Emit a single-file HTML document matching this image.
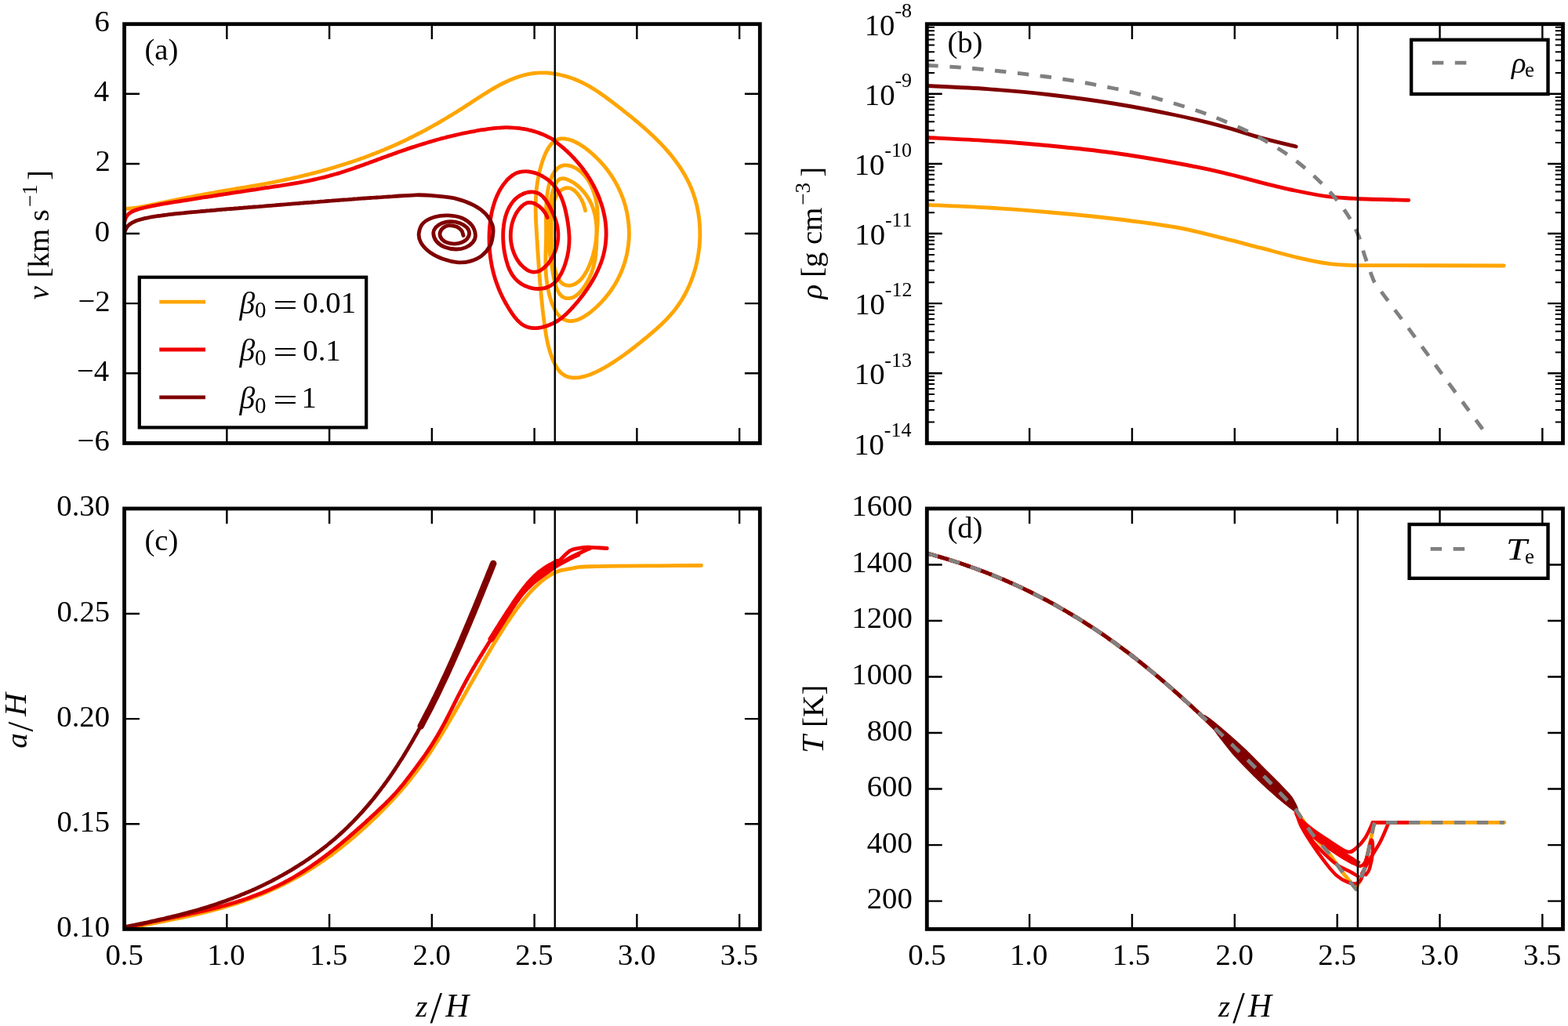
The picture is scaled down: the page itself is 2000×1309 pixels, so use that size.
<!DOCTYPE html><html><head><meta charset="utf-8"><style>html,body{margin:0;padding:0;background:#fff;overflow:hidden}svg{display:block}</style></head><body><svg width="2000" height="1309" viewBox="0 0 2000 1309" font-family="Liberation Serif, serif" style="font-kerning:none">
<rect width="2000" height="1309" fill="#fff"/>
<clipPath id="clipa"><rect x="158.6" y="30.7" width="810.6999999999999" height="534.6999999999999"/></clipPath>
<g clip-path="url(#clipa)"><path d="M158.6,267.3C158.7,267.2 158.9,267.0 159.1,266.9C159.3,266.8 159.4,266.8 159.6,266.7C159.8,266.6 159.9,266.6 160.1,266.5C160.3,266.5 160.3,266.5 160.6,266.4C160.8,266.4 161.3,266.3 161.6,266.3C161.9,266.2 162.3,266.2 162.6,266.2C162.9,266.2 163.3,266.1 163.6,266.1C163.9,266.1 164.1,266.1 164.6,266.0C165.1,266.0 165.9,265.9 166.6,265.9C167.3,265.8 167.9,265.8 168.6,265.7C169.3,265.6 169.8,265.6 170.6,265.4C171.4,265.3 172.6,265.2 173.6,265.0C174.6,264.9 175.6,264.7 176.6,264.6C177.6,264.4 178.6,264.2 179.6,264.0C180.6,263.9 181.6,263.7 182.6,263.5C183.6,263.3 184.6,263.1 185.6,262.9C186.6,262.7 187.6,262.5 188.6,262.3C189.6,262.1 190.6,261.9 191.6,261.7C192.6,261.5 193.6,261.3 194.6,261.1C195.6,260.9 196.6,260.7 197.6,260.5C198.6,260.3 199.6,260.1 200.6,259.9C201.6,259.7 202.6,259.4 203.6,259.2C204.6,259.0 205.6,258.8 206.6,258.6C207.6,258.4 208.6,258.2 209.6,258.0C210.6,257.8 211.6,257.6 212.6,257.4C213.6,257.2 214.6,257.0 215.6,256.8C216.6,256.6 217.6,256.3 218.6,256.1C219.6,255.9 220.6,255.7 221.6,255.5C222.6,255.3 223.6,255.1 224.6,254.9C225.6,254.7 226.6,254.5 227.6,254.3C228.6,254.1 229.6,253.9 230.6,253.7C231.6,253.5 232.6,253.3 233.6,253.1C234.6,252.9 235.6,252.7 236.6,252.5C237.6,252.3 238.6,252.1 239.6,251.9C240.6,251.7 241.6,251.5 242.6,251.4C243.6,251.2 244.6,251.0 245.6,250.8C246.6,250.6 247.6,250.4 248.6,250.2C249.6,250.0 250.6,249.8 251.6,249.6C252.6,249.4 253.6,249.3 254.6,249.1C255.6,248.9 256.6,248.7 257.6,248.5C258.6,248.3 259.6,248.1 260.6,247.9C261.6,247.8 262.6,247.6 263.6,247.4C264.6,247.2 265.6,247.0 266.6,246.8C267.6,246.7 268.6,246.5 269.6,246.3C270.6,246.1 271.6,245.9 272.6,245.8C273.6,245.6 274.6,245.4 275.6,245.2C276.6,245.0 277.6,244.9 278.6,244.7C279.6,244.5 280.6,244.3 281.6,244.2C282.6,244.0 283.6,243.8 284.6,243.6C285.6,243.5 286.6,243.3 287.6,243.1C288.6,242.9 289.6,242.8 290.6,242.6C291.6,242.4 292.6,242.2 293.6,242.1C294.6,241.9 295.6,241.7 296.6,241.6C297.6,241.4 298.6,241.2 299.6,241.1C300.6,240.9 301.8,240.6 302.9,240.4C303.9,240.3 304.8,240.2 305.8,240.0C306.7,239.9 307.7,239.7 308.7,239.5C309.7,239.4 310.6,239.2 311.6,239.1C312.6,238.9 313.6,238.8 314.5,238.6C315.5,238.5 316.5,238.3 317.5,238.1C318.4,238.0 319.4,237.8 320.4,237.6C321.4,237.5 322.4,237.3 323.3,237.1C324.3,237.0 325.3,236.8 326.3,236.6C327.2,236.5 328.2,236.3 329.2,236.1C330.2,236.0 331.2,235.8 332.1,235.6C333.1,235.4 334.1,235.3 335.1,235.1C336.1,234.9 337.0,234.7 338.0,234.5C339.0,234.4 340.0,234.2 341.0,234.0C341.9,233.8 342.9,233.6 343.9,233.4C344.9,233.2 345.9,233.0 346.8,232.9C347.8,232.7 348.8,232.5 349.8,232.3C350.8,232.1 351.7,231.9 352.7,231.7C353.7,231.5 354.7,231.3 355.7,231.1C356.6,230.9 357.6,230.7 358.6,230.5C359.6,230.3 360.6,230.1 361.5,229.9C362.5,229.7 363.5,229.5 364.5,229.2C365.4,229.0 366.4,228.8 367.4,228.6C368.4,228.4 369.4,228.2 370.3,228.0C371.3,227.7 372.3,227.5 373.3,227.3C374.3,227.1 375.2,226.9 376.2,226.6C377.2,226.4 378.2,226.2 379.2,226.0C380.1,225.7 381.1,225.5 382.1,225.3C383.1,225.0 384.0,224.8 385.0,224.6C386.0,224.3 387.0,224.1 387.9,223.9C388.9,223.6 389.9,223.4 390.9,223.2C391.9,222.9 392.8,222.7 393.8,222.4C394.8,222.2 395.8,221.9 396.7,221.7C397.7,221.4 398.7,221.2 399.6,220.9C400.6,220.7 401.6,220.4 402.6,220.2C403.5,219.9 404.5,219.7 405.5,219.4C406.5,219.1 407.4,218.9 408.4,218.6C409.4,218.4 410.3,218.1 411.3,217.8C412.3,217.6 413.2,217.3 414.2,217.0C415.2,216.7 416.1,216.5 417.1,216.2C418.1,215.9 419.0,215.6 420.0,215.4C421.0,215.1 421.9,214.8 422.9,214.5C423.9,214.2 424.8,214.0 425.8,213.7C426.8,213.4 427.7,213.1 428.7,212.8C429.6,212.5 430.6,212.2 431.6,211.9C432.5,211.6 433.5,211.3 434.5,211.0C435.4,210.7 436.4,210.4 437.3,210.1C438.3,209.8 439.2,209.5 440.2,209.2C441.2,208.9 442.1,208.6 443.1,208.3C444.0,208.0 445.0,207.7 445.9,207.4C446.9,207.1 447.8,206.7 448.8,206.4C449.7,206.1 450.7,205.8 451.6,205.5C452.6,205.1 453.5,204.8 454.5,204.5C455.4,204.2 456.4,203.8 457.3,203.5C458.3,203.2 459.2,202.8 460.1,202.5C461.1,202.2 462.0,201.8 463.0,201.5C463.9,201.1 464.9,200.8 465.8,200.5C466.7,200.1 467.7,199.8 468.6,199.4C469.5,199.1 470.5,198.7 471.4,198.4C472.4,198.0 473.3,197.7 474.2,197.3C475.2,196.9 476.1,196.6 477.0,196.2C477.9,195.9 478.9,195.5 479.8,195.1C480.7,194.8 481.7,194.4 482.6,194.0C483.5,193.7 484.4,193.3 485.4,192.9C486.3,192.5 487.2,192.2 488.1,191.8C489.1,191.4 490.0,191.0 490.9,190.6C491.8,190.2 492.7,189.9 493.6,189.5C494.6,189.1 495.5,188.7 496.4,188.3C497.3,187.9 498.2,187.5 499.1,187.1C500.0,186.7 500.9,186.3 501.8,185.9C502.8,185.5 503.7,185.1 504.6,184.7C505.5,184.3 506.4,183.9 507.3,183.5C508.2,183.1 509.1,182.6 510.0,182.2C510.9,181.8 511.8,181.4 512.7,181.0C513.6,180.5 514.5,180.1 515.4,179.7C516.3,179.3 517.2,178.8 518.1,178.4C519.0,178.0 519.8,177.6 520.7,177.1C521.6,176.7 522.5,176.2 523.4,175.8C524.3,175.4 525.2,174.9 526.1,174.5C527.0,174.0 527.8,173.6 528.7,173.1C529.6,172.7 530.5,172.2 531.4,171.8C532.3,171.3 533.2,170.9 534.0,170.4C534.9,170.0 535.8,169.5 536.7,169.1C537.6,168.6 538.4,168.1 539.3,167.7C540.2,167.2 541.1,166.7 541.9,166.3C542.8,165.8 543.7,165.3 544.6,164.8C545.4,164.4 546.3,163.9 547.2,163.4C548.1,162.9 548.9,162.4 549.8,162.0C550.7,161.5 551.5,161.0 552.4,160.5C553.3,160.0 554.2,159.5 555.0,159.0C555.9,158.6 556.8,158.1 557.6,157.6C558.5,157.1 559.4,156.6 560.2,156.1C561.1,155.6 562.0,155.1 562.8,154.6C563.7,154.1 564.6,153.6 565.4,153.0C566.3,152.5 567.1,152.0 568.0,151.5C568.9,151.0 569.7,150.5 570.6,150.0C571.5,149.4 572.3,148.9 573.2,148.4C574.0,147.9 574.9,147.4 575.8,146.8C576.6,146.3 577.5,145.8 578.3,145.3C579.2,144.7 580.1,144.2 580.9,143.7C581.8,143.1 582.6,142.6 583.5,142.1C584.4,141.5 585.2,141.0 586.1,140.4C586.9,139.9 587.8,139.4 588.6,138.8C589.5,138.3 590.4,137.7 591.2,137.2C592.1,136.6 592.9,136.1 593.8,135.5C594.6,135.0 595.5,134.4 596.3,133.8C597.2,133.3 598.1,132.7 598.9,132.2C599.8,131.6 600.6,131.1 601.5,130.5C602.3,129.9 603.2,129.4 604.0,128.8C604.9,128.3 605.8,127.7 606.6,127.1C607.5,126.6 608.3,126.0 609.2,125.5C610.0,124.9 610.9,124.3 611.8,123.8C612.6,123.2 613.5,122.7 614.3,122.1C615.2,121.6 616.1,121.0 616.9,120.5C617.8,119.9 618.7,119.4 619.5,118.9C620.4,118.3 621.2,117.8 622.1,117.3C623.0,116.7 623.8,116.2 624.7,115.7C625.6,115.1 626.4,114.6 627.3,114.1C628.2,113.6 629.1,113.1 629.9,112.6C630.8,112.1 631.7,111.6 632.5,111.1C633.4,110.6 634.3,110.1 635.2,109.6C636.1,109.1 636.9,108.7 637.8,108.2C638.7,107.7 639.6,107.3 640.5,106.8C641.4,106.4 642.2,105.9 643.1,105.5C644.0,105.1 644.9,104.6 645.8,104.2C646.7,103.8 647.6,103.4 648.5,103.0C649.4,102.6 650.3,102.2 651.2,101.8C652.1,101.4 653.0,101.0 653.9,100.7C654.8,100.3 655.7,100.0 656.6,99.6C657.5,99.3 658.4,98.9 659.4,98.6C660.3,98.3 661.2,98.0 662.1,97.7C663.0,97.4 664.0,97.1 664.9,96.8C665.8,96.6 666.7,96.3 667.7,96.0C668.6,95.8 669.5,95.6 670.5,95.3C671.4,95.1 672.4,94.9 673.3,94.7C674.3,94.5 675.2,94.3 676.1,94.2C677.1,94.0 678.1,93.8 679.0,93.7C680.0,93.6 680.9,93.4 681.9,93.3C682.9,93.2 683.8,93.1 684.8,93.1C685.8,93.0 686.7,92.9 687.7,92.9C688.7,92.8 689.7,92.8 690.7,92.8C691.7,92.8 692.6,92.8 693.6,92.8C694.6,92.8 695.6,92.9 696.6,92.9C697.6,93.0 698.6,93.0 699.6,93.1C700.6,93.2 701.6,93.3 702.6,93.4C703.6,93.5 704.6,93.7 705.6,93.8C706.6,94.0 707.6,94.1 708.6,94.3C709.6,94.5 710.6,94.6 711.6,94.8C712.6,95.0 713.6,95.3 714.6,95.5C715.6,95.7 716.6,95.9 717.6,96.2C718.6,96.5 719.6,96.7 720.6,97.0C721.6,97.3 722.6,97.6 723.5,97.9C724.5,98.2 725.5,98.5 726.5,98.8C727.4,99.1 728.4,99.4 729.4,99.8C730.3,100.1 731.3,100.5 732.2,100.9C733.2,101.2 734.1,101.6 735.1,102.0C736.0,102.4 737.0,102.8 737.9,103.2C738.8,103.6 739.7,104.0 740.6,104.4C741.5,104.9 742.5,105.3 743.3,105.7C744.2,106.2 745.1,106.6 746.0,107.1C746.9,107.5 747.8,108.0 748.7,108.5C749.5,109.0 750.4,109.4 751.3,109.9C752.1,110.4 753.0,110.9 753.8,111.4C754.7,111.9 755.5,112.5 756.4,113.0C757.2,113.5 758.1,114.0 758.9,114.6C759.7,115.1 760.6,115.6 761.4,116.2C762.2,116.7 763.1,117.3 763.9,117.8C764.7,118.4 765.5,118.9 766.3,119.5C767.2,120.1 768.0,120.6 768.8,121.2C769.6,121.8 770.4,122.4 771.2,122.9C772.0,123.5 772.8,124.1 773.6,124.7C774.4,125.3 775.2,125.9 776.0,126.5C776.8,127.1 777.6,127.7 778.4,128.3C779.2,128.9 780.0,129.5 780.8,130.1C781.6,130.7 782.4,131.3 783.2,131.9C784.0,132.5 784.8,133.1 785.6,133.8C786.4,134.4 787.2,135.0 788.0,135.6C788.8,136.2 789.6,136.8 790.4,137.5C791.2,138.1 792.0,138.7 792.8,139.3C793.5,139.9 794.3,140.6 795.1,141.2C795.9,141.8 796.7,142.4 797.5,143.1C798.3,143.7 799.1,144.3 799.9,145.0C800.7,145.6 801.5,146.2 802.3,146.9C803.1,147.5 803.9,148.2 804.7,148.8C805.5,149.4 806.2,150.1 807.0,150.7C807.8,151.4 808.6,152.0 809.4,152.7C810.2,153.3 811.0,154.0 811.7,154.6C812.5,155.3 813.3,155.9 814.1,156.6C814.9,157.2 815.6,157.9 816.4,158.6C817.2,159.2 817.9,159.9 818.7,160.5C819.5,161.2 820.2,161.9 821.0,162.5C821.8,163.2 822.5,163.9 823.3,164.6C824.1,165.2 824.8,165.9 825.6,166.6C826.3,167.3 827.1,168.0 827.8,168.6C828.6,169.3 829.3,170.0 830.0,170.7C830.8,171.4 831.5,172.1 832.3,172.8C833.0,173.5 833.7,174.2 834.4,174.9C835.2,175.6 835.9,176.3 836.6,177.0C837.3,177.7 838.0,178.4 838.7,179.1C839.5,179.8 840.2,180.5 840.9,181.3C841.6,182.0 842.3,182.7 843.0,183.4C843.6,184.2 844.3,184.9 845.0,185.6C845.7,186.3 846.4,187.1 847.1,187.8C847.7,188.5 848.4,189.3 849.1,190.0C849.7,190.8 850.4,191.5 851.0,192.3C851.7,193.0 852.3,193.8 853.0,194.5C853.6,195.3 854.3,196.0 854.9,196.8C855.5,197.6 856.2,198.3 856.8,199.1C857.4,199.9 858.0,200.6 858.6,201.4C859.2,202.2 859.8,203.0 860.4,203.7C861.0,204.5 861.6,205.3 862.2,206.1C862.8,206.9 863.3,207.7 863.9,208.5C864.5,209.3 865.0,210.1 865.6,210.9C866.2,211.7 866.7,212.5 867.2,213.3C867.8,214.1 868.3,214.9 868.9,215.8C869.4,216.6 869.9,217.4 870.4,218.2C870.9,219.1 871.4,219.9 871.9,220.7C872.4,221.6 872.9,222.4 873.4,223.3C873.9,224.1 874.4,225.0 874.8,225.8C875.3,226.7 875.7,227.5 876.2,228.4C876.6,229.2 877.1,230.1 877.5,231.0C878.0,231.8 878.4,232.7 878.8,233.6C879.2,234.5 879.6,235.4 880.0,236.2C880.4,237.1 880.8,238.0 881.2,238.9C881.6,239.8 881.9,240.7 882.3,241.6C882.7,242.5 883.0,243.4 883.4,244.3C883.7,245.3 884.0,246.2 884.4,247.1C884.7,248.0 885.0,248.9 885.3,249.9C885.6,250.8 885.9,251.7 886.2,252.7C886.5,253.6 886.8,254.6 887.0,255.5C887.3,256.5 887.6,257.4 887.8,258.4C888.1,259.3 888.3,260.3 888.5,261.2C888.8,262.2 889.0,263.2 889.2,264.1C889.4,265.1 889.6,266.1 889.8,267.0C890.0,268.0 890.2,269.0 890.4,270.0C890.5,271.0 890.7,271.9 890.9,272.9C891.0,273.9 891.2,274.9 891.3,275.9C891.4,276.9 891.6,277.9 891.7,278.9C891.8,279.8 891.9,280.8 892.0,281.8C892.1,282.8 892.2,283.8 892.3,284.8C892.4,285.8 892.4,286.8 892.5,287.8C892.6,288.8 892.6,289.8 892.7,290.8C892.7,291.9 892.7,292.9 892.8,293.9C892.8,294.9 892.8,295.9 892.8,296.9C892.8,297.9 892.8,298.9 892.8,299.9C892.8,300.9 892.8,301.9 892.8,303.0C892.7,304.0 892.7,305.0 892.6,306.0C892.6,307.0 892.5,308.0 892.5,309.0C892.4,310.0 892.3,311.0 892.2,312.1C892.2,313.1 892.1,314.1 892.0,315.1C891.9,316.1 891.8,317.1 891.6,318.1C891.5,319.1 891.4,320.1 891.2,321.1C891.1,322.1 891.0,323.1 890.8,324.1C890.6,325.1 890.5,326.1 890.3,327.2C890.1,328.2 889.9,329.2 889.7,330.1C889.5,331.1 889.3,332.1 889.1,333.1C888.9,334.1 888.7,335.1 888.5,336.1C888.2,337.1 888.0,338.1 887.7,339.1C887.5,340.1 887.2,341.0 887.0,342.0C886.7,343.0 886.4,344.0 886.1,345.0C885.9,345.9 885.6,346.9 885.3,347.9C884.9,348.9 884.6,349.8 884.3,350.8C884.0,351.7 883.7,352.7 883.3,353.7C883.0,354.6 882.6,355.6 882.3,356.5C881.9,357.5 881.5,358.4 881.2,359.4C880.8,360.3 880.4,361.2 880.0,362.2C879.6,363.1 879.2,364.0 878.8,365.0C878.4,365.9 878.0,366.8 877.5,367.7C877.1,368.6 876.7,369.6 876.2,370.5C875.8,371.4 875.3,372.3 874.8,373.2C874.4,374.1 873.9,375.0 873.4,375.9C872.9,376.7 872.4,377.6 871.9,378.5C871.4,379.4 870.9,380.3 870.4,381.1C869.9,382.0 869.4,382.9 868.8,383.7C868.3,384.6 867.7,385.4 867.2,386.3C866.6,387.1 866.1,387.9 865.5,388.8C864.9,389.6 864.3,390.4 863.7,391.2C863.1,392.1 862.5,392.9 861.9,393.7C861.3,394.5 860.7,395.3 860.1,396.1C859.4,396.9 858.8,397.7 858.2,398.4C857.5,399.2 856.9,400.0 856.2,400.7C855.5,401.5 854.9,402.3 854.2,403.0C853.5,403.8 852.8,404.5 852.1,405.3C851.4,406.0 850.8,406.7 850.0,407.5C849.3,408.2 848.6,408.9 847.9,409.6C847.2,410.3 846.5,411.1 845.8,411.8C845.0,412.5 844.3,413.2 843.6,413.9C842.9,414.6 842.1,415.2 841.4,415.9C840.6,416.6 839.9,417.3 839.2,418.0C838.4,418.6 837.7,419.3 836.9,420.0C836.2,420.6 835.4,421.3 834.7,421.9C833.9,422.6 833.1,423.3 832.4,423.9C831.6,424.6 830.9,425.2 830.1,425.8C829.4,426.5 828.6,427.1 827.8,427.7C827.1,428.4 826.3,429.0 825.6,429.6C824.8,430.2 824.1,430.9 823.3,431.5C822.6,432.1 821.8,432.7 821.1,433.3C820.3,433.9 819.6,434.5 818.8,435.2C818.1,435.8 817.3,436.4 816.6,437.0C815.9,437.6 815.1,438.2 814.4,438.7C813.6,439.3 812.9,439.9 812.1,440.5C811.4,441.1 810.7,441.7 809.9,442.3C809.2,442.9 808.4,443.5 807.7,444.0C806.9,444.6 806.2,445.2 805.4,445.8C804.7,446.4 803.9,446.9 803.2,447.5C802.4,448.1 801.6,448.7 800.9,449.2C800.1,449.8 799.3,450.4 798.5,450.9C797.8,451.5 797.0,452.1 796.2,452.7C795.4,453.2 794.6,453.8 793.8,454.4C793.0,454.9 792.2,455.5 791.4,456.1C790.5,456.6 789.7,457.2 788.9,457.8C788.1,458.3 787.2,458.9 786.4,459.5C785.5,460.0 784.6,460.6 783.8,461.2C782.9,461.7 782.0,462.3 781.1,462.9C780.2,463.4 779.3,464.0 778.4,464.6C777.5,465.1 776.6,465.7 775.7,466.3C774.7,466.8 773.8,467.4 772.9,467.9C771.9,468.5 771.0,469.0 770.0,469.6C769.0,470.1 768.1,470.6 767.1,471.2C766.1,471.7 765.2,472.2 764.2,472.7C763.2,473.2 762.2,473.7 761.2,474.2C760.3,474.6 759.3,475.1 758.3,475.5C757.3,476.0 756.3,476.4 755.3,476.8C754.3,477.2 753.4,477.6 752.4,478.0C751.4,478.3 750.4,478.7 749.4,479.0C748.4,479.3 747.5,479.6 746.5,479.9C745.5,480.2 744.5,480.5 743.6,480.7C742.6,480.9 741.6,481.1 740.7,481.3C739.7,481.5 738.8,481.6 737.8,481.7C736.9,481.8 736.0,481.9 735.0,481.9C734.1,482.0 733.2,482.0 732.3,482.0C731.4,482.0 730.5,481.9 729.6,481.8C728.7,481.7 727.9,481.6 727.0,481.4C726.1,481.2 725.3,481.0 724.5,480.8C723.7,480.5 722.9,480.2 722.1,479.9C721.3,479.5 720.5,479.2 719.8,478.7C719.0,478.3 718.3,477.8 717.6,477.3C716.9,476.8 716.2,476.2 715.5,475.6C714.9,475.0 714.2,474.3 713.6,473.6C713.0,472.9 712.4,472.1 711.8,471.4C711.2,470.6 710.7,469.7 710.1,468.9C709.6,468.1 709.1,467.2 708.6,466.3C708.1,465.4 707.6,464.4 707.2,463.5C706.7,462.6 706.3,461.6 705.8,460.6C705.4,459.7 705.0,458.7 704.6,457.7C704.2,456.7 703.9,455.7 703.5,454.7C703.1,453.8 702.8,452.8 702.5,451.8C702.1,450.8 701.8,449.8 701.5,448.8C701.2,447.8 700.9,446.9 700.6,445.9C700.3,444.9 700.1,443.9 699.8,442.9C699.6,441.9 699.3,441.0 699.1,440.0C698.8,439.0 698.6,438.0 698.4,437.0C698.2,436.0 698.0,435.1 697.8,434.1C697.6,433.1 697.4,432.1 697.2,431.1C697.0,430.2 696.8,429.2 696.7,428.2C696.5,427.2 696.3,426.2 696.2,425.2C696.0,424.3 695.9,423.3 695.7,422.3C695.6,421.3 695.4,420.3 695.3,419.3C695.1,418.4 695.0,417.4 694.9,416.4C694.7,415.4 694.6,414.4 694.4,413.4C694.3,412.5 694.2,411.5 694.1,410.5C693.9,409.5 693.8,408.5 693.7,407.5C693.5,406.5 693.4,405.5 693.3,404.5C693.2,403.5 693.1,402.6 692.9,401.6C692.8,400.6 692.7,399.6 692.6,398.6C692.5,397.6 692.4,396.6 692.2,395.6C692.1,394.6 692.0,393.6 691.9,392.6C691.8,391.6 691.7,390.6 691.6,389.6C691.5,388.6 691.4,387.6 691.3,386.6C691.2,385.6 691.1,384.6 691.0,383.6C690.8,382.6 690.7,381.6 690.7,380.6C690.6,379.6 690.5,378.6 690.4,377.6C690.3,376.6 690.2,375.6 690.1,374.6C690.0,373.6 689.9,372.6 689.8,371.6C689.7,370.6 689.6,369.6 689.5,368.6C689.4,367.6 689.3,366.6 689.3,365.6C689.2,364.6 689.1,363.6 689.0,362.6C688.9,361.6 688.8,360.6 688.7,359.6C688.7,358.6 688.6,357.6 688.5,356.6C688.4,355.6 688.3,354.6 688.3,353.6C688.2,352.6 688.1,351.6 688.0,350.6C687.9,349.6 687.9,348.6 687.8,347.6C687.7,346.6 687.6,345.6 687.6,344.6C687.5,343.6 687.4,342.6 687.4,341.6C687.3,340.6 687.2,339.6 687.1,338.6C687.1,337.6 687.0,336.6 686.9,335.6C686.9,334.6 686.8,333.6 686.7,332.6C686.7,331.6 686.6,330.6 686.5,329.6C686.5,328.6 686.4,327.6 686.3,326.6C686.3,325.6 686.2,324.6 686.1,323.7C686.1,322.7 686.0,321.7 685.9,320.7C685.9,319.7 685.8,318.7 685.7,317.7C685.7,316.7 685.6,315.7 685.5,314.7C685.5,313.7 685.4,312.7 685.4,311.7C685.3,310.7 685.2,309.7 685.2,308.8C685.1,307.8 685.1,306.8 685.0,305.8C684.9,304.8 684.9,303.8 684.8,302.8C684.8,301.8 684.7,300.9 684.6,299.9C684.6,298.9 684.5,297.9 684.5,296.9C684.4,295.9 684.3,294.9 684.3,294.0C684.2,293.0 684.2,292.0 684.1,291.0C684.0,290.0 684.0,289.1 683.9,288.1C683.9,287.1 683.8,286.1 683.8,285.1C683.7,284.2 683.7,283.2 683.6,282.2C683.6,281.2 683.6,280.2 683.5,279.3C683.5,278.3 683.4,277.3 683.4,276.3C683.4,275.3 683.4,274.3 683.3,273.4C683.3,272.4 683.3,271.4 683.3,270.4C683.2,269.4 683.2,268.5 683.2,267.5C683.2,266.5 683.2,265.5 683.2,264.5C683.2,263.5 683.2,262.5 683.2,261.6C683.2,260.6 683.3,259.6 683.3,258.6C683.3,257.6 683.3,256.6 683.4,255.6C683.4,254.6 683.4,253.6 683.5,252.6C683.5,251.6 683.6,250.6 683.7,249.6C683.7,248.6 683.8,247.6 683.9,246.6C684.0,245.6 684.0,244.6 684.1,243.6C684.2,242.6 684.3,241.6 684.4,240.6C684.5,239.6 684.7,238.6 684.8,237.6C684.9,236.6 685.1,235.6 685.2,234.5C685.3,233.5 685.5,232.5 685.7,231.5C685.8,230.5 686.0,229.4 686.2,228.4C686.4,227.4 686.6,226.3 686.8,225.3C687.0,224.3 687.2,223.2 687.4,222.2C687.7,221.2 687.9,220.1 688.1,219.1C688.4,218.0 688.7,217.0 688.9,215.9C689.2,214.9 689.5,213.8 689.8,212.8C690.1,211.7 690.4,210.6 690.7,209.6C691.0,208.5 691.4,207.4 691.7,206.4C692.1,205.3 692.4,204.3 692.8,203.2C693.2,202.2 693.6,201.1 694.0,200.1C694.4,199.1 694.8,198.1 695.2,197.1C695.6,196.1 696.1,195.1 696.6,194.1C697.0,193.2 697.5,192.2 698.0,191.3C698.5,190.4 699.0,189.6 699.5,188.7C700.0,187.9 700.6,187.1 701.1,186.3C701.7,185.5 702.2,184.8 702.8,184.1C703.4,183.4 704.0,182.8 704.6,182.2C705.2,181.6 705.9,181.0 706.5,180.5C707.2,180.0 707.9,179.6 708.6,179.2C709.2,178.8 709.9,178.5 710.7,178.2C711.4,177.9 712.1,177.6 712.9,177.4C713.6,177.3 714.4,177.1 715.2,177.0C715.9,176.9 716.7,176.9 717.5,176.8C718.3,176.8 719.1,176.9 719.9,176.9C720.8,177.0 721.6,177.1 722.4,177.3C723.3,177.4 724.1,177.6 725.0,177.8C725.8,178.0 726.7,178.3 727.5,178.6C728.4,178.9 729.3,179.2 730.2,179.5C731.0,179.9 731.9,180.3 732.8,180.7C733.7,181.1 734.6,181.5 735.4,182.0C736.3,182.4 737.2,182.9 738.1,183.4C739.0,183.9 739.9,184.5 740.7,185.0C741.6,185.6 742.5,186.2 743.4,186.8C744.3,187.4 745.2,188.0 746.0,188.6C746.9,189.2 747.8,189.9 748.6,190.6C749.5,191.2 750.3,191.9 751.2,192.6C752.0,193.3 752.9,194.0 753.7,194.7C754.6,195.4 755.4,196.1 756.2,196.9C757.0,197.6 757.8,198.3 758.6,199.1C759.4,199.8 760.2,200.6 761.0,201.3C761.7,202.1 762.5,202.9 763.2,203.6C764.0,204.4 764.7,205.2 765.5,205.9C766.2,206.7 766.9,207.5 767.6,208.3C768.3,209.1 769.0,209.9 769.7,210.7C770.4,211.5 771.1,212.3 771.7,213.1C772.4,213.9 773.1,214.8 773.7,215.6C774.4,216.4 775.0,217.2 775.6,218.1C776.2,218.9 776.8,219.8 777.4,220.6C778.0,221.4 778.6,222.3 779.2,223.1C779.8,224.0 780.4,224.9 780.9,225.7C781.5,226.6 782.0,227.5 782.6,228.3C783.1,229.2 783.6,230.1 784.1,231.0C784.6,231.8 785.1,232.7 785.6,233.6C786.1,234.5 786.6,235.4 787.1,236.3C787.6,237.2 788.0,238.1 788.5,239.0C788.9,239.9 789.4,240.8 789.8,241.7C790.2,242.6 790.6,243.5 791.0,244.4C791.4,245.4 791.8,246.3 792.2,247.2C792.6,248.1 793.0,249.1 793.3,250.0C793.7,250.9 794.1,251.8 794.4,252.8C794.7,253.7 795.1,254.6 795.4,255.6C795.7,256.5 796.0,257.5 796.3,258.4C796.6,259.3 796.9,260.3 797.2,261.2C797.4,262.2 797.7,263.1 798.0,264.1C798.2,265.0 798.5,266.0 798.7,267.0C798.9,267.9 799.1,268.9 799.4,269.8C799.6,270.8 799.8,271.7 799.9,272.7C800.1,273.7 800.3,274.6 800.5,275.6C800.6,276.6 800.8,277.5 800.9,278.5C801.1,279.5 801.2,280.4 801.3,281.4C801.5,282.4 801.6,283.3 801.7,284.3C801.8,285.3 801.9,286.2 801.9,287.2C802.0,288.2 802.1,289.1 802.1,290.1C802.2,291.1 802.3,292.1 802.3,293.0C802.3,294.0 802.3,295.0 802.4,295.9C802.4,296.9 802.4,297.9 802.4,298.9C802.4,299.8 802.3,300.8 802.3,301.8C802.3,302.7 802.2,303.7 802.2,304.7C802.1,305.6 802.1,306.6 802.0,307.6C801.9,308.6 801.8,309.5 801.7,310.5C801.6,311.4 801.5,312.4 801.4,313.4C801.3,314.3 801.1,315.3 801.0,316.3C800.9,317.2 800.7,318.2 800.5,319.1C800.4,320.1 800.2,321.1 800.0,322.0C799.8,323.0 799.6,323.9 799.4,324.9C799.2,325.8 799.0,326.8 798.8,327.7C798.5,328.7 798.3,329.6 798.0,330.6C797.8,331.5 797.5,332.4 797.2,333.4C797.0,334.3 796.7,335.2 796.4,336.2C796.1,337.1 795.8,338.0 795.4,339.0C795.1,339.9 794.8,340.8 794.5,341.7C794.1,342.7 793.8,343.6 793.4,344.5C793.0,345.4 792.7,346.3 792.3,347.2C791.9,348.1 791.5,349.1 791.1,350.0C790.7,350.9 790.2,351.8 789.8,352.7C789.4,353.5 788.9,354.4 788.5,355.3C788.0,356.2 787.6,357.1 787.1,358.0C786.6,358.9 786.1,359.7 785.6,360.6C785.1,361.5 784.6,362.3 784.1,363.2C783.6,364.1 783.0,364.9 782.5,365.8C782.0,366.6 781.4,367.5 780.8,368.3C780.3,369.2 779.7,370.0 779.1,370.8C778.5,371.7 777.9,372.5 777.3,373.3C776.7,374.1 776.1,375.0 775.4,375.8C774.8,376.6 774.2,377.4 773.5,378.2C772.8,379.0 772.2,379.8 771.5,380.6C770.8,381.4 770.1,382.2 769.4,382.9C768.7,383.7 768.0,384.5 767.3,385.3C766.6,386.0 765.8,386.8 765.1,387.5C764.3,388.3 763.6,389.0 762.8,389.8C762.0,390.5 761.3,391.3 760.5,392.0C759.7,392.7 758.9,393.4 758.1,394.2C757.2,394.9 756.4,395.6 755.6,396.3C754.8,397.0 753.9,397.6 753.1,398.3C752.2,399.0 751.4,399.6 750.5,400.2C749.7,400.8 748.8,401.4 747.9,402.0C747.1,402.6 746.2,403.2 745.3,403.7C744.5,404.2 743.6,404.7 742.7,405.2C741.8,405.7 741.0,406.1 740.1,406.5C739.2,406.9 738.4,407.3 737.5,407.6C736.6,408.0 735.8,408.3 734.9,408.5C734.0,408.8 733.2,409.0 732.3,409.2C731.5,409.3 730.6,409.5 729.8,409.5C729.0,409.6 728.1,409.7 727.3,409.6C726.5,409.6 725.7,409.6 724.9,409.4C724.1,409.3 723.3,409.1 722.6,408.9C721.8,408.7 721.0,408.4 720.3,408.0C719.5,407.7 718.8,407.3 718.1,406.9C717.4,406.5 716.7,406.0 716.0,405.5C715.3,404.9 714.6,404.4 714.0,403.7C713.4,403.1 712.7,402.5 712.1,401.7C711.5,401.0 710.9,400.3 710.4,399.5C709.8,398.7 709.3,397.9 708.7,397.0C708.2,396.1 707.7,395.2 707.2,394.3C706.8,393.4 706.3,392.4 705.9,391.4C705.4,390.4 705.0,389.4 704.6,388.4C704.2,387.4 703.8,386.3 703.4,385.3C703.0,384.2 702.7,383.1 702.4,382.0C702.0,381.0 701.7,379.9 701.4,378.8C701.1,377.7 700.8,376.6 700.5,375.5C700.3,374.4 700.0,373.3 699.8,372.2C699.5,371.1 699.3,370.0 699.1,368.9C698.8,367.8 698.6,366.8 698.5,365.7C698.3,364.7 698.1,363.6 697.9,362.6C697.8,361.5 697.6,360.5 697.5,359.5C697.3,358.5 697.2,357.4 697.1,356.4C697.0,355.4 696.8,354.4 696.7,353.4C696.6,352.4 696.6,351.4 696.5,350.5C696.4,349.5 696.3,348.5 696.3,347.5C696.2,346.6 696.1,345.6 696.1,344.6C696.1,343.7 696.0,342.7 696.0,341.7C695.9,340.8 695.9,339.8 695.9,338.9C695.9,337.9 695.9,337.0 695.9,336.1C695.9,335.1 695.9,334.2 695.9,333.2C695.9,332.3 695.9,331.4 695.9,330.4C695.9,329.5 695.9,328.5 695.9,327.6C695.9,326.7 695.9,325.7 696.0,324.8C696.0,323.8 696.0,322.9 696.0,322.0C696.1,321.0 696.1,320.1 696.1,319.1C696.2,318.2 696.2,317.2 696.2,316.3C696.2,315.3 696.3,314.4 696.3,313.4C696.3,312.5 696.4,311.5 696.4,310.5C696.4,309.6 696.4,308.6 696.5,307.6C696.5,306.7 696.5,305.7 696.5,304.7C696.6,303.7 696.6,302.7 696.6,301.7C696.6,300.7 696.6,299.7 696.6,298.7C696.6,297.7 696.6,296.7 696.6,295.6C696.6,294.6 696.6,293.6 696.6,292.5C696.6,291.5 696.6,290.5 696.6,289.4C696.6,288.4 696.6,287.3 696.5,286.3C696.5,285.2 696.5,284.2 696.5,283.1C696.5,282.0 696.5,281.0 696.5,279.9C696.5,278.9 696.5,277.8 696.5,276.7C696.5,275.7 696.5,274.6 696.5,273.5C696.5,272.5 696.5,271.4 696.5,270.3C696.6,269.3 696.6,268.2 696.6,267.1C696.6,266.1 696.7,265.0 696.7,263.9C696.8,262.9 696.8,261.8 696.9,260.7C696.9,259.7 697.0,258.6 697.0,257.6C697.1,256.5 697.2,255.5 697.3,254.4C697.4,253.4 697.5,252.4 697.6,251.3C697.7,250.3 697.8,249.3 698.0,248.3C698.1,247.2 698.2,246.2 698.4,245.2C698.5,244.2 698.7,243.2 698.9,242.2C699.1,241.2 699.3,240.2 699.5,239.3C699.7,238.3 699.9,237.3 700.2,236.3C700.4,235.4 700.7,234.4 700.9,233.5C701.2,232.6 701.5,231.6 701.8,230.7C702.1,229.8 702.4,228.9 702.8,228.0C703.1,227.1 703.5,226.2 703.9,225.4C704.2,224.5 704.6,223.7 705.1,222.9C705.5,222.1 705.9,221.3 706.4,220.5C706.8,219.8 707.3,219.1 707.8,218.4C708.3,217.7 708.9,217.0 709.4,216.4C710.0,215.8 710.5,215.2 711.1,214.7C711.7,214.2 712.3,213.7 713.0,213.3C713.6,212.9 714.3,212.5 715.0,212.1C715.7,211.8 716.4,211.6 717.2,211.3C717.9,211.1 718.7,211.0 719.5,210.9C720.3,210.8 721.1,210.8 722.0,210.8C722.8,210.8 723.7,210.9 724.5,211.0C725.4,211.2 726.3,211.4 727.2,211.6C728.0,211.8 728.9,212.1 729.8,212.5C730.7,212.8 731.6,213.2 732.5,213.6C733.4,214.0 734.3,214.5 735.1,215.0C736.0,215.5 736.9,216.1 737.7,216.7C738.6,217.3 739.4,217.9 740.2,218.5C741.0,219.2 741.8,219.9 742.6,220.6C743.3,221.4 744.0,222.1 744.8,222.9C745.5,223.7 746.2,224.5 746.8,225.4C747.5,226.2 748.2,227.1 748.8,228.0C749.4,228.9 750.0,229.8 750.6,230.7C751.2,231.7 751.7,232.6 752.3,233.6C752.8,234.6 753.3,235.6 753.8,236.6C754.3,237.6 754.7,238.6 755.2,239.6C755.6,240.7 756.1,241.7 756.5,242.8C756.9,243.8 757.2,244.9 757.6,246.0C758.0,247.0 758.3,248.1 758.6,249.2C758.9,250.2 759.2,251.3 759.5,252.4C759.8,253.5 760.0,254.5 760.2,255.6C760.5,256.7 760.7,257.7 760.9,258.8C761.0,259.9 761.2,260.9 761.4,262.0C761.5,263.0 761.6,264.1 761.7,265.1C761.8,266.1 761.9,267.2 762.0,268.2C762.1,269.2 762.1,270.2 762.2,271.2C762.2,272.3 762.3,273.3 762.3,274.3C762.3,275.3 762.3,276.3 762.3,277.3C762.3,278.3 762.3,279.2 762.3,280.2C762.3,281.2 762.2,282.2 762.2,283.2C762.2,284.2 762.1,285.1 762.1,286.1C762.0,287.1 762.0,288.0 761.9,289.0C761.9,290.0 761.8,290.9 761.7,291.9C761.7,292.9 761.6,293.8 761.6,294.8C761.5,295.7 761.5,296.7 761.4,297.6C761.3,298.6 761.3,299.5 761.2,300.5C761.2,301.4 761.2,302.4 761.1,303.3C761.1,304.3 761.0,305.2 761.0,306.2C761.0,307.1 760.9,308.0 760.9,309.0C760.8,309.9 760.8,310.9 760.8,311.8C760.7,312.7 760.7,313.7 760.6,314.6C760.6,315.6 760.5,316.5 760.5,317.4C760.4,318.4 760.3,319.3 760.2,320.3C760.2,321.2 760.1,322.2 760.0,323.1C759.9,324.0 759.8,325.0 759.7,325.9C759.6,326.9 759.5,327.8 759.3,328.8C759.2,329.7 759.0,330.7 758.9,331.7C758.7,332.6 758.5,333.6 758.3,334.5C758.2,335.5 757.9,336.5 757.7,337.4C757.5,338.4 757.3,339.4 757.0,340.3C756.7,341.3 756.4,342.3 756.1,343.3C755.8,344.2 755.5,345.2 755.2,346.2C754.8,347.2 754.5,348.2 754.1,349.2C753.7,350.2 753.3,351.2 752.8,352.2C752.4,353.2 751.9,354.2 751.4,355.2C750.9,356.2 750.4,357.3 749.9,358.3C749.3,359.3 748.8,360.3 748.2,361.3C747.6,362.3 747.0,363.3 746.3,364.2C745.7,365.2 745.1,366.2 744.4,367.1C743.7,368.0 743.0,368.9 742.3,369.8C741.6,370.6 740.9,371.5 740.2,372.3C739.5,373.0 738.7,373.8 738.0,374.5C737.2,375.2 736.4,375.9 735.7,376.4C734.9,377.0 734.1,377.6 733.3,378.1C732.5,378.5 731.7,379.0 730.9,379.3C730.1,379.7 729.3,379.9 728.5,380.1C727.7,380.4 726.9,380.5 726.1,380.6C725.4,380.7 724.6,380.7 723.8,380.7C723.0,380.6 722.3,380.5 721.5,380.3C720.8,380.1 720.1,379.9 719.4,379.6C718.7,379.3 718.0,378.9 717.4,378.5C716.8,378.1 716.2,377.6 715.6,377.0C715.0,376.5 714.5,375.8 713.9,375.2C713.4,374.5 712.9,373.8 712.5,373.0C712.0,372.2 711.6,371.4 711.2,370.5C710.8,369.7 710.4,368.7 710.0,367.8C709.7,366.9 709.3,365.9 709.0,364.9C708.7,363.9 708.4,362.9 708.1,361.8C707.8,360.8 707.6,359.7 707.3,358.6C707.0,357.5 706.8,356.4 706.6,355.3C706.3,354.2 706.1,353.1 705.9,351.9C705.7,350.8 705.5,349.7 705.3,348.6C705.1,347.5 704.9,346.3 704.7,345.2C704.6,344.1 704.4,343.0 704.2,342.0C704.0,340.9 703.8,339.8 703.7,338.8C703.5,337.7 703.3,336.7 703.2,335.6C703.0,334.6 702.8,333.6 702.7,332.5C702.5,331.5 702.4,330.5 702.2,329.5C702.1,328.5 701.9,327.5 701.8,326.5C701.7,325.6 701.5,324.6 701.4,323.6C701.3,322.6 701.1,321.7 701.0,320.7C700.9,319.8 700.8,318.8 700.7,317.8C700.6,316.9 700.5,316.0 700.4,315.0C700.3,314.1 700.2,313.1 700.1,312.2C700.0,311.2 699.9,310.3 699.8,309.4C699.7,308.4 699.7,307.5 699.6,306.6C699.5,305.6 699.5,304.7 699.4,303.8C699.4,302.8 699.3,301.9 699.3,301.0C699.2,300.0 699.2,299.1 699.2,298.2C699.2,297.2 699.1,296.3 699.1,295.3C699.1,294.4 699.1,293.4 699.1,292.5C699.1,291.5 699.1,290.6 699.1,289.6C699.1,288.7 699.2,287.7 699.2,286.7C699.2,285.7 699.3,284.8 699.3,283.8C699.4,282.8 699.4,281.8 699.5,280.8C699.5,279.8 699.6,278.8 699.7,277.8C699.8,276.7 699.8,275.7 699.9,274.7C700.0,273.6 700.1,272.6 700.3,271.5C700.4,270.4 700.5,269.4 700.6,268.3C700.8,267.2 700.9,266.1 701.0,265.0C701.2,263.9 701.4,262.8 701.5,261.6C701.7,260.5 701.9,259.3 702.1,258.2C702.3,257.0 702.5,255.8 702.7,254.7C702.9,253.5 703.1,252.3 703.3,251.2C703.6,250.0 703.8,248.8 704.1,247.7C704.4,246.6 704.6,245.4 704.9,244.3C705.2,243.2 705.6,242.2 705.9,241.1C706.2,240.1 706.6,239.1 707.0,238.1C707.3,237.2 707.7,236.3 708.2,235.4C708.6,234.6 709.0,233.8 709.5,233.0C710.0,232.3 710.5,231.6 711.0,231.0C711.5,230.4 712.0,229.9 712.6,229.5C713.2,229.0 713.8,228.6 714.4,228.4C715.0,228.1 715.7,227.9 716.4,227.8C717.1,227.7 717.8,227.7 718.5,227.7C719.2,227.8 720.0,227.9 720.7,228.0C721.5,228.2 722.2,228.4 723.0,228.7C723.8,229.0 724.5,229.3 725.3,229.6C726.1,230.0 726.9,230.4 727.6,230.8C728.4,231.2 729.2,231.6 729.9,232.1C730.7,232.5 731.5,233.0 732.2,233.5C732.9,234.0 733.7,234.6 734.4,235.1C735.1,235.7 735.9,236.2 736.6,236.8C737.3,237.4 738.0,238.0 738.7,238.7C739.4,239.3 740.1,239.9 740.7,240.6C741.4,241.3 742.1,242.0 742.7,242.7C743.3,243.4 744.0,244.1 744.6,244.8C745.2,245.6 745.8,246.4 746.4,247.1C747.0,247.9 747.6,248.7 748.1,249.5C748.7,250.3 749.3,251.1 749.8,252.0C750.3,252.8 750.8,253.7 751.3,254.5C751.8,255.4 752.3,256.3 752.8,257.2C753.2,258.1 753.7,259.0 754.1,259.9C754.5,260.8 754.9,261.8 755.3,262.7C755.7,263.6 756.0,264.6 756.4,265.6C756.7,266.5 757.0,267.5 757.3,268.5C757.6,269.5 757.9,270.5 758.2,271.5C758.4,272.5 758.7,273.5 758.9,274.5C759.1,275.5 759.3,276.6 759.5,277.6C759.7,278.6 759.9,279.7 760.0,280.7C760.2,281.8 760.3,282.8 760.4,283.9C760.5,284.9 760.6,286.0 760.7,287.1C760.8,288.2 760.8,289.2 760.9,290.3C760.9,291.4 760.9,292.5 760.9,293.6C760.9,294.6 760.9,295.7 760.9,296.8C760.9,297.9 760.8,299.0 760.7,300.1C760.7,301.2 760.6,302.3 760.5,303.4C760.4,304.5 760.3,305.6 760.2,306.7C760.0,307.8 759.9,308.9 759.7,310.0C759.6,311.1 759.4,312.1 759.2,313.2C759.0,314.3 758.8,315.4 758.6,316.5C758.4,317.6 758.1,318.7 757.9,319.7C757.6,320.8 757.3,321.9 757.1,323.0C756.8,324.0 756.5,325.1 756.2,326.2C755.9,327.2 755.5,328.3 755.2,329.3C754.9,330.4 754.5,331.4 754.1,332.5C753.8,333.5 753.4,334.5 753.0,335.5C752.6,336.5 752.2,337.6 751.8,338.5C751.4,339.5 750.9,340.5 750.5,341.5C750.0,342.4 749.6,343.4 749.1,344.3C748.6,345.2 748.2,346.2 747.6,347.0C747.1,347.9 746.6,348.8 746.1,349.6C745.6,350.5 745.0,351.3 744.5,352.1C743.9,352.8 743.3,353.6 742.8,354.3C742.2,355.1 741.6,355.8 741.0,356.4C740.3,357.1 739.7,357.7 739.1,358.3C738.4,358.9 737.8,359.4 737.1,359.9C736.4,360.5 735.8,360.9 735.1,361.4C734.4,361.8 733.7,362.2 732.9,362.5C732.2,362.9 731.5,363.2 730.7,363.4C730.0,363.7 729.2,363.9 728.5,364.0C727.7,364.2 726.9,364.3 726.2,364.3C725.4,364.3 724.7,364.3 723.9,364.2C723.2,364.2 722.4,364.0 721.7,363.8C721.0,363.6 720.3,363.4 719.6,363.0C718.9,362.7 718.2,362.3 717.6,361.9C716.9,361.4 716.3,360.9 715.7,360.3C715.1,359.7 714.5,359.0 714.0,358.2C713.4,357.5 712.9,356.7 712.4,355.9C712.0,355.0 711.5,354.1 711.1,353.2C710.6,352.2 710.2,351.3 709.8,350.3C709.4,349.3 709.1,348.2 708.7,347.2C708.4,346.2 708.1,345.1 707.8,344.1C707.5,343.0 707.2,342.0 706.9,340.9C706.7,339.9 706.4,338.9 706.2,337.8C706.0,336.8 705.8,335.8 705.6,334.8C705.4,333.8 705.2,332.8 705.0,331.8C704.9,330.8 704.7,329.8 704.6,328.8C704.5,327.8 704.4,326.8 704.3,325.8C704.1,324.8 704.1,323.8 704.0,322.9C703.9,321.9 703.8,320.9 703.7,319.9C703.7,318.9 703.6,317.9 703.6,316.9C703.5,316.0 703.5,315.0 703.5,314.0C703.4,313.0 703.4,312.0 703.4,311.0C703.3,309.9 703.3,308.9 703.3,307.9C703.3,306.9 703.3,305.9 703.3,304.8C703.3,303.8 703.3,302.7 703.2,301.7C703.2,300.6 703.2,299.5 703.2,298.5C703.2,297.4 703.2,296.3 703.2,295.2C703.2,294.1 703.2,293.0 703.2,291.8C703.2,290.7 703.2,289.6 703.2,288.5C703.2,287.4 703.2,286.2 703.2,285.1C703.3,284.0 703.3,282.8 703.3,281.7C703.3,280.6 703.4,279.5 703.4,278.4C703.5,277.2 703.6,276.1 703.6,275.0C703.7,273.9 703.8,272.8 703.9,271.7C704.0,270.7 704.1,269.6 704.3,268.5C704.4,267.5 704.6,266.4 704.7,265.4C704.9,264.3 705.1,263.3 705.3,262.3C705.5,261.3 705.7,260.3 706.0,259.4C706.2,258.4 706.5,257.5 706.7,256.6C707.0,255.7 707.3,254.8 707.7,253.9C708.0,253.1 708.4,252.2 708.8,251.4C709.2,250.6 709.6,249.8 710.0,249.1C710.4,248.4 710.9,247.7 711.4,247.0C711.9,246.3 712.4,245.7 713.0,245.1C713.6,244.5 714.1,243.9 714.8,243.4C715.4,242.9 716.0,242.4 716.7,242.0C717.3,241.5 718.0,241.2 718.7,240.9C719.4,240.5 720.2,240.3 720.9,240.1C721.6,239.9 722.4,239.8 723.1,239.7C723.9,239.7 724.6,239.7 725.4,239.8C726.2,239.9 726.9,240.0 727.7,240.3C728.5,240.6 729.2,240.9 730.0,241.3C730.7,241.7 731.5,242.3 732.2,242.8C733.0,243.4 733.7,244.1 734.4,244.8C735.2,245.5 735.9,246.2 736.5,247.1C737.2,247.9 737.9,248.8 738.5,249.7C739.2,250.6 739.8,251.6 740.4,252.6C741.0,253.5 741.5,254.6 742.1,255.6C742.6,256.7 743.1,257.7 743.5,258.8C744.0,259.9 744.4,261.0 744.8,262.1C745.2,263.2 745.5,264.3 745.8,265.4C746.1,266.5 746.4,268.1 746.5,268.7" fill="none" stroke="#ffa500" stroke-width="4.84" stroke-linejoin="round" stroke-linecap="round"/><path d="M158.6,284.2C158.7,283.8 158.9,282.7 159.1,282.0C159.3,281.4 159.4,280.8 159.6,280.3C159.8,279.8 159.9,279.4 160.1,278.9C160.3,278.5 160.3,278.3 160.6,277.8C160.8,277.3 161.3,276.5 161.6,275.9C161.9,275.4 162.3,275.0 162.6,274.6C162.9,274.1 163.3,273.8 163.6,273.4C163.9,273.1 164.1,272.9 164.6,272.5C165.1,272.1 165.9,271.5 166.6,271.1C167.3,270.6 167.9,270.3 168.6,269.9C169.3,269.6 169.8,269.4 170.6,269.0C171.4,268.7 172.6,268.2 173.6,267.9C174.6,267.5 175.6,267.2 176.6,266.9C177.6,266.6 178.6,266.3 179.6,266.0C180.6,265.8 181.6,265.5 182.6,265.3C183.6,265.0 184.6,264.8 185.6,264.6C186.6,264.3 187.6,264.1 188.6,263.9C189.6,263.7 190.6,263.5 191.6,263.3C192.6,263.1 193.6,262.9 194.6,262.7C195.6,262.5 196.6,262.3 197.6,262.1C198.6,261.9 199.6,261.7 200.6,261.5C201.6,261.3 202.6,261.2 203.6,261.0C204.6,260.8 205.6,260.6 206.6,260.4C207.6,260.3 208.6,260.1 209.6,259.9C210.6,259.8 211.6,259.6 212.6,259.4C213.6,259.2 214.6,259.1 215.6,258.9C216.6,258.8 217.6,258.6 218.6,258.4C219.6,258.3 220.6,258.1 221.6,257.9C222.6,257.8 223.6,257.6 224.6,257.4C225.6,257.3 226.6,257.1 227.6,257.0C228.6,256.8 229.6,256.6 230.6,256.5C231.6,256.3 232.6,256.2 233.6,256.0C234.6,255.8 235.6,255.7 236.6,255.5C237.6,255.4 238.6,255.2 239.6,255.1C240.6,254.9 241.6,254.7 242.6,254.6C243.6,254.4 244.6,254.3 245.6,254.1C246.6,253.9 247.6,253.8 248.6,253.6C249.6,253.5 250.6,253.3 251.6,253.2C252.6,253.0 253.6,252.8 254.6,252.7C255.6,252.5 256.6,252.4 257.6,252.2C258.6,252.1 259.6,251.9 260.6,251.7C261.6,251.6 262.6,251.4 263.6,251.3C264.6,251.1 265.6,251.0 266.6,250.8C267.6,250.7 268.6,250.5 269.6,250.3C270.6,250.2 271.6,250.0 272.6,249.9C273.6,249.7 274.6,249.6 275.6,249.4C276.6,249.2 277.6,249.1 278.6,248.9C279.6,248.8 280.6,248.6 281.6,248.5C282.6,248.3 283.6,248.2 284.6,248.0C285.6,247.9 286.6,247.7 287.6,247.5C288.6,247.4 289.6,247.2 290.6,247.1C291.6,246.9 292.6,246.8 293.6,246.6C294.6,246.5 295.6,246.3 296.6,246.1C297.6,246.0 298.6,245.8 299.6,245.7C300.6,245.5 301.6,245.4 302.6,245.2C303.6,245.1 304.6,244.9 305.6,244.8C306.6,244.6 307.6,244.5 308.6,244.3C309.6,244.2 310.6,244.0 311.6,243.8C312.6,243.7 313.6,243.5 314.6,243.4C315.6,243.2 316.6,243.1 317.6,242.9C318.6,242.8 319.6,242.6 320.6,242.5C321.6,242.3 322.6,242.2 323.6,242.0C324.6,241.9 325.6,241.7 326.6,241.6C327.6,241.4 328.6,241.3 329.6,241.1C330.6,241.0 331.6,240.8 332.6,240.7C333.6,240.5 334.6,240.4 335.6,240.2C336.6,240.0 337.6,239.9 338.6,239.7C339.6,239.6 340.6,239.4 341.6,239.3C342.6,239.1 343.6,239.0 344.6,238.8C345.6,238.7 346.6,238.6 347.6,238.4C348.6,238.3 349.6,238.1 350.6,238.0C351.6,237.8 352.6,237.7 353.6,237.5C354.6,237.4 355.6,237.2 356.6,237.1C357.6,236.9 358.6,236.8 359.6,236.6C360.6,236.5 361.6,236.3 362.6,236.1C363.6,236.0 364.6,235.8 365.6,235.7C366.6,235.5 367.6,235.4 368.6,235.2C369.6,235.0 370.6,234.9 371.6,234.7C372.6,234.5 373.6,234.4 374.6,234.2C375.6,234.0 376.6,233.9 377.6,233.7C378.6,233.5 379.6,233.3 380.6,233.2C381.6,233.0 382.6,232.8 383.6,232.6C384.6,232.4 385.6,232.2 386.6,232.0C387.6,231.9 388.6,231.7 389.6,231.5C390.6,231.3 391.6,231.1 392.6,230.9C393.6,230.7 394.6,230.4 395.6,230.2C396.6,230.0 397.6,229.8 398.6,229.6C399.6,229.4 400.6,229.2 401.6,228.9C402.6,228.7 403.6,228.5 404.6,228.2C405.6,228.0 406.6,227.8 407.6,227.5C408.6,227.3 409.6,227.1 410.6,226.8C411.6,226.6 412.6,226.3 413.6,226.1C414.6,225.8 415.6,225.5 416.6,225.3C417.6,225.0 418.6,224.8 419.6,224.5C420.6,224.2 421.6,223.9 422.6,223.7C423.6,223.4 424.6,223.1 425.6,222.8C426.6,222.5 427.6,222.2 428.6,222.0C429.6,221.7 430.6,221.4 431.6,221.1C432.6,220.8 433.6,220.5 434.6,220.2C435.6,219.8 436.6,219.5 437.6,219.2C438.6,218.9 439.6,218.6 440.6,218.3C441.6,217.9 442.6,217.6 443.6,217.3C444.6,216.9 445.6,216.6 446.6,216.3C447.6,215.9 448.6,215.6 449.6,215.2C450.6,214.9 451.6,214.5 452.6,214.2C453.6,213.8 454.6,213.5 455.6,213.1C456.6,212.8 457.6,212.4 458.6,212.1C459.6,211.7 460.6,211.4 461.6,211.0C462.6,210.6 463.6,210.3 464.6,209.9C465.6,209.6 466.6,209.2 467.6,208.8C468.6,208.5 469.6,208.1 470.6,207.7C471.6,207.4 472.6,207.0 473.6,206.6C474.6,206.3 475.6,205.9 476.6,205.5C477.6,205.1 478.6,204.8 479.6,204.4C480.6,204.0 481.6,203.7 482.6,203.3C483.6,202.9 484.6,202.6 485.6,202.2C486.6,201.8 487.6,201.5 488.6,201.1C489.6,200.7 490.6,200.4 491.6,200.0C492.6,199.6 493.6,199.3 494.6,198.9C495.6,198.5 496.6,198.2 497.6,197.8C498.6,197.5 499.6,197.1 500.6,196.7C501.6,196.4 502.6,196.0 503.6,195.7C504.6,195.3 505.6,194.9 506.6,194.6C507.6,194.2 508.6,193.9 509.6,193.5C510.6,193.2 511.6,192.8 512.6,192.5C513.6,192.1 514.6,191.8 515.6,191.4C516.6,191.1 517.6,190.8 518.6,190.4C519.6,190.1 520.6,189.7 521.6,189.4C522.6,189.1 523.6,188.7 524.6,188.4C525.6,188.1 526.6,187.7 527.6,187.4C528.6,187.1 529.6,186.8 530.6,186.4C531.6,186.1 532.6,185.8 533.6,185.5C534.6,185.2 535.6,184.8 536.6,184.5C537.6,184.2 538.6,183.9 539.6,183.6C540.6,183.3 541.6,183.0 542.6,182.7C543.6,182.4 544.6,182.1 545.6,181.8C546.6,181.5 547.6,181.2 548.6,180.9C549.6,180.6 550.6,180.3 551.6,180.0C552.6,179.7 553.6,179.4 554.6,179.1C555.6,178.9 556.6,178.6 557.6,178.3C558.6,178.0 559.6,177.7 560.6,177.5C561.6,177.2 562.6,176.9 563.6,176.7C564.6,176.4 565.6,176.1 566.6,175.9C567.6,175.6 568.6,175.4 569.6,175.1C570.6,174.8 571.6,174.6 572.6,174.3C573.6,174.1 574.6,173.9 575.6,173.6C576.6,173.4 577.6,173.1 578.6,172.9C579.6,172.7 580.6,172.4 581.6,172.2C582.6,172.0 583.6,171.7 584.6,171.5C585.6,171.3 586.6,171.1 587.6,170.9C588.6,170.6 589.6,170.4 590.6,170.2C591.6,170.0 592.6,169.8 593.6,169.6C594.6,169.4 595.6,169.2 596.6,169.0C597.6,168.8 598.6,168.6 599.6,168.4C600.6,168.2 601.6,168.0 602.6,167.8C603.6,167.6 604.6,167.5 605.6,167.3C606.6,167.1 607.6,166.9 608.6,166.7C609.6,166.6 610.6,166.4 611.6,166.2C612.6,166.1 613.6,165.9 614.6,165.7C615.6,165.6 616.6,165.4 617.6,165.3C618.6,165.1 619.6,165.0 620.6,164.8C621.6,164.7 622.6,164.5 623.6,164.4C624.6,164.3 625.6,164.2 626.6,164.0C627.6,163.9 628.6,163.8 629.6,163.7C630.6,163.6 631.6,163.5 632.6,163.4C633.6,163.3 634.6,163.2 635.6,163.2C636.6,163.1 637.6,163.0 638.6,163.0C639.6,162.9 640.6,162.9 641.6,162.8C642.6,162.8 643.6,162.8 644.6,162.7C645.6,162.7 646.6,162.7 647.6,162.7C648.6,162.7 649.6,162.7 650.6,162.8C651.6,162.8 652.6,162.8 653.6,162.9C654.6,162.9 655.6,163.0 656.6,163.1C657.6,163.1 658.6,163.2 659.6,163.3C660.6,163.4 661.6,163.5 662.6,163.6C663.6,163.8 664.6,163.9 665.6,164.1C666.6,164.2 667.6,164.4 668.6,164.5C669.6,164.7 670.6,164.9 671.6,165.1C672.6,165.3 673.6,165.5 674.6,165.8C675.6,166.0 676.6,166.3 677.6,166.5C678.6,166.8 679.6,167.1 680.6,167.4C681.6,167.7 682.6,168.0 683.6,168.3C684.6,168.6 685.6,169.0 686.6,169.3C687.6,169.7 688.6,170.0 689.6,170.4C690.6,170.8 691.6,171.2 692.6,171.6C693.6,172.1 694.6,172.5 695.6,172.9C696.6,173.4 697.6,173.9 698.6,174.4C699.6,174.8 700.6,175.4 701.6,175.9C702.6,176.4 703.6,176.9 704.6,177.5C705.6,178.0 707.1,178.7 707.6,179.2C708.1,179.7 707.3,179.8 707.7,180.3C708.2,180.8 709.3,181.5 710.1,182.1C710.9,182.7 711.7,183.3 712.5,183.9C713.3,184.5 714.1,185.2 714.9,185.8C715.6,186.4 716.4,187.1 717.2,187.7C718.0,188.4 718.7,189.0 719.5,189.7C720.2,190.3 721.0,191.0 721.7,191.7C722.5,192.4 723.2,193.0 724.0,193.7C724.7,194.4 725.4,195.1 726.2,195.8C726.9,196.5 727.6,197.2 728.3,197.9C729.0,198.7 729.7,199.4 730.4,200.1C731.1,200.8 731.8,201.6 732.5,202.3C733.2,203.1 733.9,203.8 734.5,204.6C735.2,205.3 735.9,206.1 736.5,206.9C737.2,207.6 737.9,208.4 738.5,209.2C739.2,209.9 739.8,210.7 740.4,211.5C741.1,212.3 741.7,213.1 742.3,213.9C742.9,214.7 743.5,215.5 744.1,216.3C744.7,217.1 745.3,218.0 745.9,218.8C746.5,219.6 747.1,220.4 747.7,221.3C748.2,222.1 748.8,222.9 749.3,223.8C749.9,224.6 750.4,225.5 751.0,226.3C751.5,227.2 752.1,228.0 752.6,228.9C753.1,229.7 753.6,230.6 754.1,231.5C754.6,232.3 755.1,233.2 755.6,234.1C756.1,235.0 756.6,235.9 757.0,236.7C757.5,237.6 758.0,238.5 758.4,239.4C758.9,240.3 759.3,241.2 759.8,242.1C760.2,243.0 760.6,243.9 761.0,244.8C761.4,245.7 761.9,246.6 762.2,247.5C762.6,248.5 763.0,249.4 763.4,250.3C763.8,251.2 764.1,252.1 764.5,253.1C764.9,254.0 765.2,254.9 765.5,255.9C765.9,256.8 766.2,257.7 766.5,258.7C766.8,259.6 767.1,260.6 767.4,261.5C767.7,262.4 768.0,263.4 768.3,264.3C768.6,265.3 768.8,266.2 769.1,267.2C769.3,268.1 769.6,269.1 769.8,270.1C770.0,271.0 770.2,272.0 770.4,272.9C770.7,273.9 770.8,274.9 771.0,275.8C771.2,276.8 771.4,277.7 771.6,278.7C771.7,279.7 771.9,280.7 772.0,281.6C772.1,282.6 772.3,283.6 772.4,284.5C772.5,285.5 772.6,286.5 772.7,287.5C772.8,288.4 772.8,289.4 772.9,290.4C773.0,291.4 773.0,292.3 773.1,293.3C773.1,294.3 773.1,295.3 773.1,296.3C773.2,297.2 773.2,298.2 773.2,299.2C773.1,300.2 773.1,301.2 773.1,302.1C773.0,303.1 773.0,304.1 772.9,305.1C772.9,306.1 772.8,307.0 772.7,308.0C772.6,309.0 772.5,310.0 772.4,311.0C772.3,312.0 772.1,312.9 772.0,313.9C771.9,314.9 771.7,315.9 771.5,316.9C771.3,317.8 771.2,318.8 771.0,319.8C770.8,320.8 770.5,321.7 770.3,322.7C770.1,323.7 769.8,324.7 769.6,325.6C769.3,326.6 769.1,327.6 768.8,328.6C768.5,329.5 768.2,330.5 767.9,331.5C767.5,332.4 767.2,333.4 766.9,334.4C766.5,335.3 766.2,336.3 765.8,337.2C765.4,338.2 765.0,339.2 764.7,340.1C764.3,341.1 763.8,342.0 763.4,343.0C763.0,343.9 762.6,344.9 762.1,345.8C761.7,346.8 761.2,347.7 760.8,348.6C760.3,349.6 759.8,350.5 759.4,351.4C758.9,352.4 758.4,353.3 757.9,354.2C757.4,355.1 756.9,356.1 756.3,357.0C755.8,357.9 755.3,358.8 754.7,359.7C754.2,360.6 753.6,361.5 753.1,362.4C752.5,363.3 752.0,364.2 751.4,365.0C750.8,365.9 750.3,366.8 749.7,367.7C749.1,368.5 748.5,369.4 747.9,370.3C747.3,371.1 746.7,372.0 746.1,372.8C745.5,373.7 744.9,374.5 744.3,375.3C743.7,376.2 743.0,377.0 742.4,377.8C741.8,378.6 741.2,379.4 740.5,380.2C739.9,381.0 739.3,381.8 738.6,382.6C738.0,383.4 737.4,384.2 736.7,385.0C736.1,385.7 735.4,386.5 734.8,387.2C734.1,388.0 733.5,388.7 732.8,389.5C732.2,390.2 731.5,390.9 730.9,391.7C730.2,392.4 729.6,393.1 728.9,393.8C728.3,394.5 727.6,395.2 727.0,395.9C726.3,396.5 725.7,397.2 725.0,397.9C724.4,398.5 723.7,399.2 723.0,399.8C722.4,400.5 721.7,401.1 721.0,401.7C720.3,402.3 719.6,402.9 718.9,403.5C718.2,404.1 717.5,404.7 716.8,405.3C716.1,405.9 715.3,406.4 714.5,407.0C713.8,407.5 713.0,408.1 712.2,408.6C711.4,409.1 710.6,409.6 709.7,410.1C708.9,410.6 708.0,411.1 707.1,411.6C706.2,412.1 705.3,412.5 704.4,413.0C703.5,413.4 702.5,413.8 701.6,414.2C700.6,414.6 699.7,415.0 698.7,415.4C697.7,415.7 696.7,416.1 695.7,416.4C694.7,416.7 693.7,417.0 692.7,417.2C691.7,417.5 690.7,417.7 689.7,417.9C688.7,418.0 687.6,418.2 686.6,418.3C685.6,418.4 684.6,418.5 683.6,418.6C682.6,418.6 681.6,418.6 680.6,418.6C679.7,418.5 678.7,418.4 677.7,418.3C676.8,418.2 675.8,418.0 674.9,417.8C673.9,417.6 673.0,417.3 672.1,417.0C671.2,416.7 670.3,416.3 669.5,415.9C668.6,415.5 667.8,415.0 667.0,414.5C666.1,414.0 665.3,413.4 664.6,412.8C663.8,412.2 663.0,411.6 662.3,410.9C661.6,410.2 660.8,409.5 660.1,408.8C659.4,408.0 658.7,407.2 658.1,406.4C657.4,405.6 656.7,404.8 656.1,404.0C655.4,403.1 654.8,402.3 654.2,401.4C653.6,400.5 653.0,399.7 652.4,398.8C651.8,397.9 651.2,397.0 650.6,396.1C650.1,395.2 649.5,394.3 648.9,393.4C648.4,392.5 647.8,391.6 647.3,390.7C646.8,389.8 646.2,388.9 645.7,388.0C645.2,387.1 644.7,386.2 644.2,385.3C643.7,384.4 643.2,383.5 642.8,382.6C642.3,381.7 641.8,380.8 641.4,379.9C640.9,379.0 640.5,378.1 640.0,377.1C639.6,376.2 639.2,375.3 638.7,374.4C638.3,373.5 637.9,372.6 637.5,371.6C637.1,370.7 636.7,369.8 636.3,368.9C636.0,367.9 635.6,367.0 635.2,366.1C634.9,365.2 634.5,364.2 634.2,363.3C633.8,362.4 633.5,361.4 633.2,360.5C632.8,359.6 632.5,358.6 632.2,357.7C631.9,356.8 631.6,355.8 631.3,354.9C631.0,353.9 630.8,353.0 630.5,352.0C630.2,351.1 629.9,350.1 629.7,349.2C629.4,348.2 629.2,347.3 629.0,346.3C628.7,345.4 628.5,344.4 628.3,343.5C628.1,342.5 627.8,341.5 627.6,340.6C627.4,339.6 627.3,338.7 627.1,337.7C626.9,336.7 626.7,335.7 626.5,334.8C626.4,333.8 626.2,332.8 626.1,331.9C625.9,330.9 625.8,329.9 625.6,328.9C625.5,327.9 625.4,326.9 625.3,326.0C625.2,325.0 625.0,324.0 624.9,323.0C624.8,322.0 624.8,321.0 624.7,320.0C624.6,319.0 624.5,318.0 624.4,317.0C624.4,316.0 624.3,315.0 624.3,314.0C624.2,313.0 624.2,312.0 624.1,311.0C624.1,310.0 624.1,308.9 624.1,307.9C624.0,306.9 624.0,305.9 624.0,304.9C624.0,303.8 624.0,302.8 624.0,301.8C624.0,300.7 624.1,299.7 624.1,298.7C624.1,297.7 624.2,296.6 624.2,295.6C624.3,294.6 624.3,293.5 624.4,292.5C624.4,291.5 624.5,290.4 624.6,289.4C624.7,288.4 624.8,287.3 624.9,286.3C625.0,285.3 625.1,284.2 625.2,283.2C625.4,282.2 625.5,281.1 625.6,280.1C625.8,279.1 625.9,278.1 626.1,277.1C626.3,276.0 626.5,275.0 626.6,274.0C626.8,273.0 627.0,272.0 627.2,271.0C627.5,270.0 627.7,269.0 627.9,268.0C628.1,267.0 628.4,266.0 628.7,265.0C628.9,264.1 629.2,263.1 629.5,262.1C629.8,261.1 630.1,260.2 630.4,259.2C630.7,258.3 631.0,257.3 631.3,256.4C631.7,255.4 632.0,254.5 632.4,253.5C632.8,252.6 633.1,251.7 633.5,250.8C633.9,249.9 634.3,249.0 634.7,248.1C635.2,247.2 635.6,246.3 636.0,245.4C636.5,244.6 636.9,243.7 637.4,242.9C637.9,242.0 638.4,241.2 638.9,240.3C639.4,239.5 639.9,238.7 640.5,237.9C641.0,237.1 641.6,236.3 642.1,235.5C642.7,234.7 643.3,233.9 643.9,233.2C644.5,232.4 645.1,231.7 645.7,231.0C646.4,230.2 647.0,229.5 647.7,228.8C648.4,228.1 649.1,227.5 649.8,226.8C650.5,226.2 651.2,225.6 651.9,225.0C652.7,224.4 653.4,223.9 654.2,223.4C655.0,222.8 655.7,222.4 656.5,221.9C657.4,221.5 658.2,221.1 659.0,220.7C659.9,220.4 660.7,220.1 661.6,219.8C662.5,219.6 663.4,219.3 664.3,219.2C665.2,219.0 666.1,218.9 667.1,218.8C668.0,218.7 669.0,218.7 669.9,218.7C670.9,218.6 671.8,218.7 672.8,218.8C673.8,218.8 674.8,219.0 675.7,219.1C676.7,219.3 677.7,219.4 678.7,219.7C679.7,219.9 680.6,220.2 681.6,220.4C682.6,220.7 683.6,221.1 684.6,221.4C685.5,221.8 686.5,222.2 687.5,222.6C688.4,223.0 689.4,223.5 690.3,224.0C691.2,224.4 692.2,225.0 693.1,225.5C694.0,226.0 694.9,226.6 695.8,227.2C696.7,227.8 697.6,228.4 698.4,229.0C699.3,229.7 700.1,230.3 700.9,231.0C701.7,231.7 702.5,232.4 703.3,233.2C704.0,233.9 704.8,234.6 705.5,235.4C706.2,236.2 706.9,237.0 707.6,237.8C708.2,238.6 708.9,239.4 709.5,240.3C710.1,241.1 710.7,242.0 711.2,242.8C711.8,243.7 712.3,244.6 712.8,245.5C713.3,246.4 713.8,247.3 714.3,248.2C714.7,249.2 715.2,250.1 715.6,251.0C716.0,252.0 716.4,252.9 716.8,253.9C717.2,254.9 717.6,255.8 717.9,256.8C718.3,257.8 718.6,258.8 718.9,259.7C719.2,260.7 719.5,261.7 719.8,262.7C720.1,263.7 720.4,264.7 720.6,265.7C720.9,266.7 721.1,267.7 721.3,268.7C721.6,269.7 721.8,270.7 722.0,271.7C722.2,272.7 722.4,273.7 722.6,274.7C722.8,275.7 723.0,276.7 723.2,277.6C723.4,278.6 723.5,279.6 723.7,280.6C723.9,281.6 724.0,282.5 724.2,283.5C724.3,284.4 724.5,285.4 724.6,286.4C724.7,287.3 724.9,288.3 725.0,289.2C725.1,290.1 725.2,291.1 725.3,292.0C725.4,293.0 725.5,293.9 725.6,294.8C725.7,295.8 725.7,296.7 725.8,297.6C725.9,298.6 725.9,299.5 726.0,300.4C726.0,301.4 726.0,302.3 726.1,303.2C726.1,304.2 726.1,305.1 726.1,306.0C726.1,307.0 726.0,307.9 726.0,308.9C726.0,309.8 725.9,310.7 725.9,311.7C725.8,312.6 725.7,313.6 725.6,314.5C725.5,315.5 725.4,316.5 725.3,317.4C725.2,318.4 725.1,319.4 724.9,320.3C724.8,321.3 724.6,322.3 724.4,323.3C724.2,324.3 724.0,325.3 723.8,326.3C723.6,327.3 723.3,328.3 723.1,329.3C722.8,330.3 722.5,331.3 722.2,332.4C721.9,333.4 721.6,334.5 721.3,335.5C721.0,336.6 720.6,337.6 720.2,338.7C719.9,339.7 719.5,340.8 719.1,341.9C718.6,342.9 718.2,344.0 717.7,345.0C717.3,346.0 716.8,347.1 716.3,348.1C715.8,349.1 715.3,350.0 714.7,351.0C714.2,352.0 713.6,352.9 713.0,353.8C712.4,354.7 711.8,355.6 711.1,356.5C710.5,357.3 709.8,358.1 709.1,358.9C708.4,359.6 707.7,360.4 707.0,361.0C706.2,361.7 705.4,362.3 704.6,362.9C703.8,363.5 703.0,364.0 702.2,364.5C701.3,365.0 700.5,365.4 699.6,365.8C698.7,366.2 697.8,366.6 696.9,366.9C696.0,367.2 695.0,367.4 694.1,367.7C693.2,367.9 692.2,368.0 691.3,368.2C690.3,368.3 689.3,368.4 688.4,368.4C687.4,368.5 686.4,368.5 685.5,368.5C684.5,368.4 683.5,368.4 682.5,368.3C681.6,368.2 680.6,368.0 679.6,367.8C678.6,367.7 677.7,367.5 676.7,367.2C675.8,367.0 674.8,366.7 673.9,366.4C673.0,366.0 672.0,365.7 671.1,365.3C670.2,364.9 669.3,364.5 668.4,364.1C667.6,363.6 666.7,363.2 665.9,362.7C665.0,362.2 664.2,361.6 663.4,361.1C662.6,360.5 661.9,359.9 661.1,359.3C660.4,358.7 659.7,358.1 659.0,357.4C658.3,356.8 657.7,356.1 657.0,355.4C656.4,354.7 655.8,353.9 655.3,353.2C654.7,352.4 654.1,351.7 653.6,350.9C653.1,350.1 652.6,349.2 652.1,348.4C651.6,347.6 651.2,346.7 650.8,345.8C650.3,345.0 649.9,344.1 649.5,343.2C649.1,342.3 648.8,341.3 648.4,340.4C648.0,339.5 647.7,338.5 647.4,337.6C647.1,336.6 646.8,335.6 646.5,334.6C646.2,333.6 645.9,332.6 645.6,331.6C645.4,330.6 645.1,329.6 644.9,328.5C644.6,327.5 644.4,326.5 644.2,325.4C644.0,324.4 643.8,323.3 643.6,322.2C643.4,321.2 643.2,320.1 643.0,319.0C642.9,317.9 642.7,316.9 642.6,315.8C642.5,314.7 642.3,313.6 642.2,312.5C642.1,311.4 642.0,310.3 642.0,309.2C641.9,308.1 641.8,307.0 641.8,305.9C641.7,304.8 641.7,303.7 641.7,302.6C641.7,301.5 641.7,300.4 641.7,299.4C641.7,298.3 641.7,297.2 641.8,296.1C641.8,295.0 641.9,293.9 642.0,292.8C642.0,291.8 642.1,290.7 642.3,289.6C642.4,288.6 642.5,287.5 642.7,286.5C642.8,285.4 643.0,284.4 643.2,283.4C643.4,282.3 643.6,281.3 643.8,280.3C644.0,279.3 644.3,278.3 644.5,277.3C644.8,276.3 645.1,275.4 645.4,274.4C645.7,273.5 646.0,272.5 646.3,271.6C646.7,270.7 647.0,269.7 647.4,268.8C647.8,267.9 648.2,267.1 648.6,266.2C649.0,265.3 649.5,264.5 649.9,263.7C650.4,262.8 650.9,262.0 651.4,261.3C651.9,260.5 652.4,259.7 653.0,259.0C653.5,258.2 654.1,257.5 654.7,256.8C655.3,256.1 655.9,255.4 656.5,254.8C657.2,254.1 657.8,253.5 658.5,252.9C659.2,252.3 659.9,251.7 660.7,251.2C661.4,250.7 662.1,250.1 662.9,249.6C663.7,249.2 664.5,248.7 665.3,248.3C666.2,247.8 667.0,247.4 667.9,247.1C668.7,246.7 669.6,246.4 670.5,246.1C671.4,245.9 672.3,245.6 673.2,245.4C674.1,245.2 675.0,245.1 675.9,245.0C676.8,244.9 677.7,244.9 678.6,244.9C679.6,244.9 680.5,245.0 681.4,245.1C682.3,245.3 683.1,245.4 684.0,245.7C684.9,246.0 685.8,246.3 686.6,246.7C687.4,247.1 688.3,247.6 689.1,248.1C689.9,248.7 690.6,249.3 691.4,250.0C692.2,250.7 692.9,251.4 693.6,252.3C694.3,253.1 695.0,253.9 695.7,254.8C696.3,255.7 697.0,256.7 697.6,257.7C698.2,258.6 698.8,259.6 699.4,260.6C700.0,261.6 700.5,262.7 701.1,263.7C701.6,264.7 702.1,265.7 702.6,266.7C703.1,267.7 703.6,268.7 704.1,269.7C704.6,270.7 705.0,271.7 705.4,272.6C705.9,273.6 706.3,274.6 706.7,275.5C707.1,276.5 707.4,277.4 707.8,278.3C708.1,279.3 708.5,280.2 708.8,281.1C709.1,282.1 709.4,283.0 709.6,283.9C709.9,284.9 710.1,285.8 710.4,286.7C710.6,287.6 710.8,288.6 711.0,289.5C711.1,290.4 711.3,291.4 711.4,292.3C711.5,293.2 711.6,294.2 711.7,295.1C711.8,296.1 711.9,297.0 711.9,298.0C711.9,299.0 711.9,300.0 711.9,300.9C711.9,301.9 711.8,302.9 711.8,303.9C711.7,304.9 711.6,305.9 711.5,306.9C711.4,307.9 711.2,308.9 711.0,309.9C710.9,310.9 710.6,311.9 710.4,312.9C710.2,314.0 709.9,315.0 709.6,316.0C709.3,317.0 709.0,318.0 708.7,319.0C708.3,320.0 707.9,321.0 707.5,322.0C707.1,323.0 706.7,324.0 706.2,325.0C705.8,325.9 705.3,326.9 704.7,327.9C704.2,328.9 703.6,329.8 703.0,330.8C702.5,331.7 701.8,332.6 701.2,333.5C700.5,334.5 699.9,335.3 699.2,336.2C698.5,337.1 697.7,337.9 697.0,338.7C696.3,339.5 695.5,340.2 694.7,340.9C693.9,341.6 693.1,342.3 692.3,342.9C691.5,343.5 690.7,344.1 689.9,344.6C689.0,345.1 688.2,345.5 687.3,345.9C686.5,346.2 685.6,346.5 684.8,346.7C683.9,346.9 683.0,347.1 682.2,347.1C681.3,347.2 680.5,347.1 679.6,347.0C678.8,346.9 677.9,346.7 677.1,346.5C676.2,346.2 675.4,345.9 674.5,345.5C673.7,345.1 672.9,344.7 672.1,344.2C671.3,343.7 670.5,343.1 669.7,342.5C669.0,341.9 668.2,341.3 667.5,340.6C666.7,340.0 666.0,339.3 665.3,338.5C664.6,337.8 664.0,337.1 663.3,336.3C662.7,335.5 662.1,334.7 661.5,333.9C660.9,333.0 660.3,332.2 659.8,331.3C659.2,330.4 658.7,329.5 658.2,328.6C657.7,327.7 657.2,326.8 656.8,325.8C656.4,324.9 655.9,323.9 655.6,323.0C655.2,322.0 654.8,321.0 654.5,320.0C654.1,319.0 653.8,318.0 653.5,316.9C653.2,315.9 653.0,314.9 652.8,313.8C652.5,312.8 652.3,311.7 652.2,310.7C652.0,309.6 651.8,308.5 651.7,307.5C651.6,306.4 651.5,305.3 651.4,304.3C651.4,303.2 651.4,302.1 651.3,301.1C651.3,300.0 651.4,298.9 651.4,297.8C651.4,296.8 651.5,295.7 651.6,294.7C651.7,293.6 651.8,292.5 652.0,291.5C652.1,290.5 652.3,289.4 652.5,288.4C652.7,287.4 653.0,286.3 653.2,285.3C653.5,284.3 653.7,283.3 654.0,282.4C654.4,281.4 654.7,280.4 655.0,279.5C655.4,278.5 655.8,277.6 656.2,276.7C656.6,275.7 657.0,274.8 657.5,274.0C657.9,273.1 658.4,272.2 658.9,271.4C659.4,270.6 659.9,269.7 660.5,269.0C661.0,268.2 661.6,267.4 662.2,266.7C662.8,265.9 663.4,265.2 664.1,264.5C664.7,263.9 665.4,263.2 666.1,262.6C666.8,262.0 667.5,261.4 668.2,260.9C669.0,260.4 669.7,260.0 670.5,259.6C671.3,259.2 672.1,258.9 672.9,258.7C673.7,258.5 674.6,258.4 675.5,258.4C676.3,258.4 677.2,258.4 678.1,258.6C679.0,258.8 679.9,259.0 680.8,259.4C681.7,259.7 682.6,260.1 683.5,260.6C684.4,261.0 685.3,261.6 686.2,262.2C687.1,262.8 687.9,263.4 688.8,264.2C689.6,264.9 690.4,265.6 691.2,266.4C691.9,267.2 692.7,268.1 693.4,269.0C694.1,269.8 694.7,270.8 695.3,271.7C695.9,272.6 696.5,273.6 696.9,274.5C697.4,275.5 698.0,277.0 698.2,277.5" fill="none" stroke="#f00000" stroke-width="4.84" stroke-linejoin="round" stroke-linecap="round"/><path d="M158.6,297.7C158.7,297.4 158.9,296.4 159.1,295.9C159.3,295.3 159.4,294.8 159.6,294.4C159.8,293.9 159.9,293.5 160.1,293.1C160.3,292.8 160.3,292.6 160.6,292.1C160.8,291.6 161.3,290.9 161.6,290.4C161.9,289.8 162.3,289.4 162.6,289.0C162.9,288.6 163.3,288.2 163.6,287.8C163.9,287.5 164.1,287.3 164.6,286.9C165.1,286.5 165.9,285.8 166.6,285.3C167.3,284.9 167.9,284.5 168.6,284.1C169.3,283.7 169.8,283.5 170.6,283.1C171.4,282.7 172.6,282.2 173.6,281.8C174.6,281.4 175.6,281.1 176.6,280.8C177.6,280.5 178.6,280.2 179.6,279.9C180.6,279.6 181.6,279.4 182.6,279.1C183.6,278.9 184.6,278.7 185.6,278.4C186.6,278.2 187.6,278.0 188.6,277.8C189.6,277.6 190.6,277.4 191.6,277.2C192.6,277.1 193.6,276.9 194.6,276.7C195.6,276.5 196.6,276.4 197.6,276.2C198.6,276.0 199.6,275.9 200.6,275.7C201.6,275.6 202.6,275.4 203.6,275.3C204.6,275.2 205.6,275.0 206.6,274.9C207.6,274.7 208.6,274.6 209.6,274.5C210.6,274.3 211.6,274.2 212.6,274.1C213.6,274.0 214.6,273.8 215.6,273.7C216.6,273.6 217.6,273.5 218.6,273.4C219.6,273.3 220.6,273.1 221.6,273.0C222.6,272.9 223.6,272.8 224.6,272.7C225.6,272.6 226.6,272.5 227.6,272.4C228.6,272.3 229.6,272.2 230.6,272.1C231.6,272.0 232.6,271.9 233.6,271.8C234.6,271.7 235.6,271.6 236.6,271.5C237.6,271.4 238.6,271.3 239.6,271.2C240.6,271.1 241.6,271.0 242.6,270.9C243.6,270.8 244.6,270.7 245.6,270.6C246.6,270.5 247.6,270.4 248.6,270.3C249.6,270.3 250.6,270.2 251.6,270.1C252.6,270.0 253.6,269.9 254.6,269.8C255.6,269.7 256.6,269.6 257.6,269.5C258.6,269.5 259.6,269.4 260.6,269.3C261.6,269.2 262.6,269.1 263.6,269.0C264.6,268.9 265.6,268.9 266.6,268.8C267.6,268.7 268.6,268.6 269.6,268.5C270.6,268.4 271.6,268.3 272.6,268.3C273.6,268.2 274.6,268.1 275.6,268.0C276.6,267.9 277.6,267.8 278.6,267.7C279.6,267.7 280.6,267.6 281.6,267.5C282.6,267.4 283.6,267.3 284.6,267.2C285.6,267.2 286.6,267.1 287.6,267.0C288.6,266.9 289.6,266.8 290.6,266.7C291.6,266.7 292.6,266.6 293.6,266.5C294.6,266.4 295.6,266.3 296.6,266.3C297.6,266.2 298.6,266.1 299.6,266.0C300.6,265.9 301.6,265.8 302.6,265.8C303.6,265.7 304.6,265.6 305.6,265.5C306.6,265.4 307.6,265.3 308.6,265.3C309.6,265.2 310.6,265.1 311.6,265.0C312.6,264.9 313.6,264.9 314.6,264.8C315.6,264.7 316.6,264.6 317.6,264.5C318.6,264.4 319.6,264.4 320.6,264.3C321.6,264.2 322.6,264.1 323.6,264.0C324.6,264.0 325.6,263.9 326.6,263.8C327.6,263.7 328.6,263.6 329.6,263.6C330.6,263.5 331.6,263.4 332.6,263.3C333.6,263.2 334.6,263.1 335.6,263.1C336.6,263.0 337.6,262.9 338.6,262.8C339.6,262.7 340.6,262.7 341.6,262.6C342.6,262.5 343.6,262.4 344.6,262.3C345.6,262.3 346.6,262.2 347.6,262.1C348.6,262.0 349.6,261.9 350.6,261.9C351.6,261.8 352.6,261.7 353.6,261.6C354.6,261.5 355.6,261.5 356.6,261.4C357.6,261.3 358.6,261.2 359.6,261.1C360.6,261.1 361.6,261.0 362.6,260.9C363.6,260.8 364.6,260.7 365.6,260.7C366.6,260.6 367.6,260.5 368.6,260.4C369.6,260.3 370.6,260.3 371.6,260.2C372.6,260.1 373.6,260.0 374.6,259.9C375.6,259.9 376.6,259.8 377.6,259.7C378.6,259.6 379.6,259.5 380.6,259.5C381.6,259.4 382.6,259.3 383.6,259.2C384.6,259.1 385.6,259.1 386.6,259.0C387.6,258.9 388.6,258.8 389.6,258.7C390.6,258.7 391.6,258.6 392.6,258.5C393.6,258.4 394.6,258.3 395.6,258.3C396.6,258.2 397.6,258.1 398.6,258.0C399.6,258.0 400.6,257.9 401.6,257.8C402.6,257.7 403.6,257.6 404.6,257.6C405.6,257.5 406.6,257.4 407.6,257.3C408.6,257.2 409.6,257.2 410.6,257.1C411.6,257.0 412.6,256.9 413.6,256.9C414.6,256.8 415.6,256.7 416.6,256.6C417.6,256.5 418.6,256.5 419.6,256.4C420.6,256.3 421.6,256.2 422.6,256.2C423.6,256.1 424.6,256.0 425.6,255.9C426.6,255.8 427.6,255.8 428.6,255.7C429.6,255.6 430.6,255.5 431.6,255.5C432.6,255.4 433.6,255.3 434.6,255.2C435.6,255.2 436.6,255.1 437.6,255.0C438.6,254.9 439.6,254.9 440.6,254.8C441.6,254.7 442.6,254.6 443.6,254.6C444.6,254.5 445.6,254.4 446.6,254.3C447.6,254.3 448.6,254.2 449.6,254.1C450.6,254.0 451.6,254.0 452.6,253.9C453.6,253.8 454.6,253.7 455.6,253.7C456.6,253.6 457.6,253.5 458.6,253.4C459.6,253.4 460.6,253.3 461.6,253.2C462.6,253.2 463.6,253.1 464.6,253.0C465.6,252.9 466.6,252.9 467.6,252.8C468.6,252.7 469.6,252.7 470.6,252.6C471.6,252.5 472.6,252.5 473.6,252.4C474.6,252.3 475.6,252.2 476.6,252.2C477.6,252.1 478.6,252.0 479.6,252.0C480.6,251.9 481.6,251.8 482.6,251.8C483.6,251.7 484.6,251.6 485.6,251.6C486.6,251.5 487.6,251.4 488.6,251.4C489.6,251.3 490.6,251.2 491.6,251.2C492.6,251.1 493.6,251.0 494.6,251.0C495.6,250.9 496.6,250.8 497.6,250.8C498.6,250.7 499.6,250.6 500.6,250.6C501.6,250.5 498.7,250.7 503.6,250.4C508.5,250.1 522.3,249.0 530.0,248.8C537.7,248.6 541.5,248.7 549.7,249.4C558.0,250.1 570.4,250.7 579.5,252.8C588.6,254.9 597.7,258.5 604.3,261.8C610.9,265.1 615.2,268.4 619.2,272.7C623.2,277.0 626.6,283.1 628.2,287.6C629.8,292.1 629.2,295.2 628.7,299.5C628.2,303.8 627.6,308.9 625.2,313.4C622.8,317.9 618.6,323.0 614.3,326.3C610.0,329.6 604.4,331.9 599.4,333.3C594.4,334.7 590.3,335.3 584.5,334.8C578.7,334.3 570.7,332.5 564.6,330.3C558.5,328.1 552.3,324.9 547.7,321.4C543.1,317.9 539.0,313.4 536.8,309.4C534.6,305.4 533.8,301.6 534.3,297.5C534.8,293.4 536.4,288.1 539.8,284.6C543.2,281.1 549.2,278.3 554.7,276.7C560.2,275.1 566.7,274.6 572.5,274.9C578.3,275.2 584.6,276.2 589.4,278.3C594.3,280.4 599.0,283.9 601.9,287.5C604.7,291.1 606.2,296.5 606.4,300.1C606.6,303.7 605.1,306.5 603.1,309.1C601.0,311.6 597.6,314.1 594.1,315.6C590.5,317.1 586.2,318.1 581.7,318.0C577.2,317.9 571.4,317.0 567.2,315.3C563.1,313.6 559.1,310.8 556.7,307.9C554.3,305.0 553.0,300.7 552.8,297.8C552.6,294.9 553.9,292.4 555.7,290.2C557.6,288.1 560.6,286.0 563.8,284.7C567.0,283.5 571.0,282.7 574.8,282.7C578.6,282.7 583.3,283.5 586.7,284.7C590.1,286.0 593.4,288.1 595.4,290.2C597.4,292.4 598.5,295.4 598.6,297.8C598.7,300.2 597.6,302.5 596.0,304.4C594.4,306.4 591.8,308.2 589.0,309.3C586.2,310.4 582.5,311.1 579.4,311.1C576.3,311.1 572.9,310.5 570.2,309.5C567.5,308.5 565.0,306.9 563.5,305.2C561.9,303.4 561.1,301.2 561.0,299.2C560.9,297.2 561.7,295.1 562.7,293.4C563.8,291.7 565.6,290.1 567.5,289.2C569.4,288.2 571.5,287.6 574.0,287.6C576.5,287.6 580.0,288.3 582.5,289.3C585.0,290.4 587.3,292.2 588.7,294.1C590.1,295.9 590.6,299.4 591.0,300.5" fill="none" stroke="#800000" stroke-width="4.84" stroke-linejoin="round" stroke-linecap="round"/></g>
<line x1="707.78" y1="30.70" x2="707.78" y2="565.40" stroke="#000" stroke-width="2.4"/>
<path d="M158.60,565.40v-19.4M158.60,30.70v19.4M289.36,565.40v-19.4M289.36,30.70v19.4M420.12,565.40v-19.4M420.12,30.70v19.4M550.87,565.40v-19.4M550.87,30.70v19.4M681.63,565.40v-19.4M681.63,30.70v19.4M812.39,565.40v-19.4M812.39,30.70v19.4M943.15,565.40v-19.4M943.15,30.70v19.4M158.60,565.40h19.4M969.30,565.40h-19.4M158.60,476.28h19.4M969.30,476.28h-19.4M158.60,387.17h19.4M969.30,387.17h-19.4M158.60,298.05h19.4M969.30,298.05h-19.4M158.60,208.93h19.4M969.30,208.93h-19.4M158.60,119.82h19.4M969.30,119.82h-19.4M158.60,30.70h19.4M969.30,30.70h-19.4" stroke="#000" stroke-width="2.4" fill="none"/>
<rect x="158.60" y="30.70" width="810.70" height="534.70" fill="none" stroke="#000" stroke-width="4.84"/>
<text x="120.40" y="40.20" font-size="38.7">6</text>
<text x="119.85" y="129.32" font-size="38.7">4</text>
<text x="121.39" y="218.43" font-size="38.7">2</text>
<text x="120.72" y="307.55" font-size="38.7">0</text>
<text x="99.56" y="396.67" font-size="38.7">−2</text>
<text x="98.03" y="485.78" font-size="38.7">−4</text>
<text x="98.58" y="574.90" font-size="38.7">−6</text>
<clipPath id="clipb"><rect x="1182.3" y="30.7" width="811.2" height="534.6999999999999"/></clipPath>
<g clip-path="url(#clipb)"><path d="M1182.3,261.3C1195.2,261.9 1233.7,263.4 1260.0,265.0C1286.3,266.6 1313.3,268.7 1340.0,271.0C1366.7,273.3 1393.3,275.8 1420.0,279.0C1446.7,282.2 1476.7,285.9 1500.0,290.0C1523.3,294.1 1542.1,299.5 1560.0,303.9C1577.9,308.3 1591.7,312.1 1607.5,316.2C1623.3,320.3 1640.8,325.3 1655.0,328.6C1669.2,331.9 1681.9,334.6 1693.0,336.2C1704.1,337.8 1712.0,338.0 1721.5,338.4C1731.0,338.8 1717.2,338.5 1750.0,338.6C1782.8,338.7 1890.2,338.9 1918.2,339.0" fill="none" stroke="#ffa500" stroke-width="4.84" stroke-linejoin="round" stroke-linecap="round"/><path d="M1182.3,175.5C1195.2,176.2 1233.7,177.8 1260.0,179.6C1286.3,181.3 1313.3,183.4 1340.0,186.0C1366.7,188.6 1393.3,191.3 1420.0,195.0C1446.7,198.7 1476.7,203.8 1500.0,208.0C1523.3,212.2 1542.1,216.2 1560.0,220.3C1577.9,224.4 1592.3,228.8 1607.5,232.6C1622.7,236.4 1637.0,240.0 1651.2,243.0C1665.5,246.0 1679.7,248.9 1693.0,250.7C1706.3,252.4 1713.7,252.7 1731.0,253.5C1748.3,254.3 1785.7,255.1 1796.6,255.4" fill="none" stroke="#f00000" stroke-width="4.84" stroke-linejoin="round" stroke-linecap="round"/><path d="M1182.3,109.5C1195.2,110.2 1233.7,111.7 1260.0,113.6C1286.3,115.5 1313.3,117.9 1340.0,121.0C1366.7,124.1 1393.3,127.7 1420.0,132.0C1446.7,136.3 1476.7,142.1 1500.0,147.0C1523.3,151.9 1542.1,156.6 1560.0,161.4C1577.9,166.2 1592.0,171.3 1607.5,175.6C1623.0,179.9 1645.5,185.1 1653.1,187.0" fill="none" stroke="#800000" stroke-width="4.84" stroke-linejoin="round" stroke-linecap="round"/><path d="M1182.3,83.3C1188.4,83.7 1208.0,84.8 1219.0,85.6C1230.0,86.4 1238.3,87.1 1248.0,88.0C1257.7,88.9 1267.2,89.9 1277.0,91.0C1286.8,92.1 1297.2,93.2 1307.0,94.4C1316.8,95.6 1326.3,96.7 1336.0,98.0C1345.7,99.3 1355.4,100.8 1365.0,102.4C1374.6,104.0 1384.1,105.6 1393.6,107.4C1403.1,109.2 1412.4,111.0 1422.0,113.0C1431.6,115.0 1441.5,117.3 1451.0,119.6C1460.5,121.9 1469.6,124.0 1479.0,126.6C1488.4,129.2 1498.3,132.1 1507.6,135.0C1516.9,137.9 1526.3,140.9 1535.0,144.0C1543.7,147.1 1551.1,150.1 1560.0,153.8C1568.9,157.5 1579.3,161.7 1588.5,166.1C1597.7,170.5 1606.5,175.5 1615.1,180.4C1623.6,185.3 1631.7,190.1 1639.8,195.6C1647.9,201.1 1656.0,207.3 1663.6,213.6C1671.2,219.9 1678.4,226.6 1685.4,233.6C1692.4,240.6 1699.4,248.0 1705.4,255.4C1711.4,262.8 1716.9,270.6 1721.5,278.2C1726.1,285.8 1729.7,293.1 1732.9,301.0C1736.1,308.9 1738.4,319.4 1740.5,325.7C1742.6,332.0 1743.6,334.3 1745.3,339.0C1747.0,343.7 1748.6,349.6 1750.6,354.0C1752.5,358.4 1750.4,356.2 1757.0,365.5C1763.6,374.8 1777.8,393.5 1790.0,410.0C1802.2,426.5 1816.7,446.3 1830.0,464.5C1843.3,482.7 1858.8,503.8 1870.0,519.0C1881.2,534.2 1892.5,549.4 1897.0,555.5" fill="none" stroke="#808080" stroke-width="4.84" stroke-linejoin="round" stroke-linecap="butt" stroke-dasharray="14.5 14.5" stroke-dashoffset="0"/></g>
<line x1="1731.82" y1="30.70" x2="1731.82" y2="565.40" stroke="#000" stroke-width="2.4"/>
<path d="M1182.30,565.40v-19.4M1182.30,30.70v19.4M1313.14,565.40v-19.4M1313.14,30.70v19.4M1443.98,565.40v-19.4M1443.98,30.70v19.4M1574.82,565.40v-19.4M1574.82,30.70v19.4M1705.65,565.40v-19.4M1705.65,30.70v19.4M1836.49,565.40v-19.4M1836.49,30.70v19.4M1967.33,565.40v-19.4M1967.33,30.70v19.4M1182.30,565.40h19.4M1993.50,565.40h-19.4M1182.30,476.28h19.4M1993.50,476.28h-19.4M1182.30,387.17h19.4M1993.50,387.17h-19.4M1182.30,298.05h19.4M1993.50,298.05h-19.4M1182.30,208.93h19.4M1993.50,208.93h-19.4M1182.30,119.82h19.4M1993.50,119.82h-19.4M1182.30,30.70h19.4M1993.50,30.70h-19.4" stroke="#000" stroke-width="2.4" fill="none"/>
<path d="M1182.30,538.57h9.7M1993.50,538.57h-9.7M1182.30,522.88h9.7M1993.50,522.88h-9.7M1182.30,511.75h9.7M1993.50,511.75h-9.7M1182.30,503.11h9.7M1993.50,503.11h-9.7M1182.30,496.05h9.7M1993.50,496.05h-9.7M1182.30,490.09h9.7M1993.50,490.09h-9.7M1182.30,484.92h9.7M1993.50,484.92h-9.7M1182.30,480.36h9.7M1993.50,480.36h-9.7M1182.30,449.46h9.7M1993.50,449.46h-9.7M1182.30,433.76h9.7M1993.50,433.76h-9.7M1182.30,422.63h9.7M1993.50,422.63h-9.7M1182.30,413.99h9.7M1993.50,413.99h-9.7M1182.30,406.94h9.7M1993.50,406.94h-9.7M1182.30,400.97h9.7M1993.50,400.97h-9.7M1182.30,395.80h9.7M1993.50,395.80h-9.7M1182.30,391.24h9.7M1993.50,391.24h-9.7M1182.30,360.34h9.7M1993.50,360.34h-9.7M1182.30,344.65h9.7M1993.50,344.65h-9.7M1182.30,333.51h9.7M1993.50,333.51h-9.7M1182.30,324.88h9.7M1993.50,324.88h-9.7M1182.30,317.82h9.7M1993.50,317.82h-9.7M1182.30,311.85h9.7M1993.50,311.85h-9.7M1182.30,306.69h9.7M1993.50,306.69h-9.7M1182.30,302.13h9.7M1993.50,302.13h-9.7M1182.30,271.22h9.7M1993.50,271.22h-9.7M1182.30,255.53h9.7M1993.50,255.53h-9.7M1182.30,244.40h9.7M1993.50,244.40h-9.7M1182.30,235.76h9.7M1993.50,235.76h-9.7M1182.30,228.70h9.7M1993.50,228.70h-9.7M1182.30,222.74h9.7M1993.50,222.74h-9.7M1182.30,217.57h9.7M1993.50,217.57h-9.7M1182.30,213.01h9.7M1993.50,213.01h-9.7M1182.30,182.11h9.7M1993.50,182.11h-9.7M1182.30,166.41h9.7M1993.50,166.41h-9.7M1182.30,155.28h9.7M1993.50,155.28h-9.7M1182.30,146.64h9.7M1993.50,146.64h-9.7M1182.30,139.59h9.7M1993.50,139.59h-9.7M1182.30,133.62h9.7M1993.50,133.62h-9.7M1182.30,128.45h9.7M1993.50,128.45h-9.7M1182.30,123.89h9.7M1993.50,123.89h-9.7M1182.30,92.99h9.7M1993.50,92.99h-9.7M1182.30,77.30h9.7M1993.50,77.30h-9.7M1182.30,66.16h9.7M1993.50,66.16h-9.7M1182.30,57.53h9.7M1993.50,57.53h-9.7M1182.30,50.47h9.7M1993.50,50.47h-9.7M1182.30,44.50h9.7M1993.50,44.50h-9.7M1182.30,39.34h9.7M1993.50,39.34h-9.7M1182.30,34.78h9.7M1993.50,34.78h-9.7" stroke="#000" stroke-width="2.0" fill="none"/>
<rect x="1182.30" y="30.70" width="811.20" height="534.70" fill="none" stroke="#000" stroke-width="4.84"/>
<text x="1127.75" y="556.70" font-size="26">-14</text>
<text x="1089.19" y="579.60" font-size="38.7">10</text>
<text x="1128.36" y="467.58" font-size="26">-13</text>
<text x="1089.80" y="490.48" font-size="38.7">10</text>
<text x="1128.78" y="378.47" font-size="26">-12</text>
<text x="1090.22" y="401.37" font-size="38.7">10</text>
<text x="1128.90" y="289.35" font-size="26">-11</text>
<text x="1090.34" y="312.25" font-size="38.7">10</text>
<text x="1128.33" y="200.23" font-size="26">-10</text>
<text x="1089.77" y="223.13" font-size="38.7">10</text>
<text x="1141.41" y="111.12" font-size="26">-9</text>
<text x="1102.85" y="134.02" font-size="38.7">10</text>
<text x="1141.33" y="22.00" font-size="26">-8</text>
<text x="1102.77" y="44.90" font-size="38.7">10</text>
<clipPath id="clipc"><rect x="158.6" y="648.9" width="810.6999999999999" height="536.5000000000001"/></clipPath>
<g clip-path="url(#clipc)"><path d="M158.6,1185.2C159.3,1185.1 161.3,1184.6 162.6,1184.4C164.0,1184.1 165.3,1183.8 166.6,1183.6C168.0,1183.3 169.3,1183.0 170.7,1182.8C172.0,1182.5 173.4,1182.3 174.7,1182.0C176.0,1181.7 177.4,1181.5 178.7,1181.2C180.1,1181.0 181.4,1180.7 182.7,1180.4C184.1,1180.2 185.4,1179.9 186.8,1179.7C188.1,1179.4 189.5,1179.1 190.8,1178.9C192.1,1178.6 193.5,1178.4 194.8,1178.1C196.2,1177.8 197.5,1177.6 198.8,1177.3C200.2,1177.1 201.5,1176.8 202.9,1176.5C204.2,1176.3 205.5,1176.0 206.9,1175.7C208.2,1175.5 209.6,1175.2 210.9,1175.0C212.3,1174.7 213.6,1174.4 214.9,1174.1C216.3,1173.9 217.6,1173.6 219.0,1173.3C220.3,1173.1 221.6,1172.8 223.0,1172.5C224.3,1172.2 225.7,1172.0 227.0,1171.7C228.4,1171.4 229.7,1171.1 231.0,1170.8C232.4,1170.6 233.7,1170.3 235.1,1170.0C236.4,1169.7 237.7,1169.4 239.1,1169.1C240.4,1168.8 241.8,1168.5 243.1,1168.2C244.5,1167.9 245.8,1167.6 247.1,1167.3C248.5,1167.0 249.8,1166.7 251.2,1166.4C252.5,1166.1 253.8,1165.7 255.2,1165.4C256.5,1165.1 257.9,1164.8 259.2,1164.5C260.5,1164.1 261.9,1163.8 263.2,1163.5C264.6,1163.1 265.9,1162.8 267.3,1162.4C268.6,1162.1 269.9,1161.8 271.3,1161.4C272.6,1161.0 274.0,1160.7 275.3,1160.3C276.6,1160.0 278.0,1159.6 279.3,1159.2C280.7,1158.9 282.0,1158.5 283.4,1158.1C284.7,1157.7 286.0,1157.3 287.4,1156.9C288.7,1156.5 290.1,1156.1 291.4,1155.7C292.7,1155.3 294.1,1154.9 295.4,1154.5C296.8,1154.1 298.1,1153.7 299.4,1153.2C300.8,1152.8 302.1,1152.4 303.5,1151.9C304.8,1151.5 306.2,1151.1 307.5,1150.6C308.8,1150.1 310.2,1149.7 311.5,1149.2C312.9,1148.8 314.2,1148.3 315.5,1147.8C316.9,1147.3 318.2,1146.8 319.6,1146.3C320.9,1145.8 322.3,1145.3 323.6,1144.8C324.9,1144.3 326.3,1143.8 327.6,1143.3C329.0,1142.8 330.3,1142.2 331.6,1141.7C333.0,1141.2 334.3,1140.6 335.7,1140.0C337.0,1139.5 338.4,1138.9 339.7,1138.4C341.0,1137.8 342.4,1137.2 343.7,1136.6C345.1,1136.0 346.4,1135.4 347.7,1134.8C349.1,1134.2 350.4,1133.6 351.8,1133.0C353.1,1132.4 354.4,1131.7 355.8,1131.1C357.1,1130.4 358.5,1129.8 359.8,1129.1C361.2,1128.5 362.5,1127.8 363.8,1127.1C365.2,1126.4 366.5,1125.7 367.9,1125.0C369.2,1124.3 370.5,1123.6 371.9,1122.9C373.2,1122.2 374.6,1121.5 375.9,1120.7C377.3,1120.0 378.6,1119.2 379.9,1118.5C381.3,1117.7 382.6,1116.9 384.0,1116.2C385.3,1115.4 386.6,1114.6 388.0,1113.8C389.3,1113.0 390.7,1112.2 392.0,1111.3C393.3,1110.5 394.7,1109.7 396.0,1108.8C397.4,1108.0 398.7,1107.1 400.1,1106.3C401.4,1105.4 402.7,1104.5 404.1,1103.6C405.4,1102.7 406.8,1101.8 408.1,1100.9C409.4,1100.0 410.8,1099.1 412.1,1098.2C413.5,1097.2 414.8,1096.3 416.2,1095.3C417.5,1094.4 418.8,1093.4 420.2,1092.5C421.5,1091.5 422.9,1090.5 424.2,1089.5C425.5,1088.5 426.9,1087.5 428.2,1086.5C429.6,1085.5 430.9,1084.4 432.3,1083.4C433.6,1082.3 434.9,1081.3 436.3,1080.2C437.6,1079.2 439.0,1078.1 440.3,1077.0C441.6,1075.9 443.0,1074.8 444.3,1073.7C445.7,1072.6 447.0,1071.5 448.3,1070.4C449.7,1069.3 451.0,1068.1 452.4,1067.0C453.7,1065.8 455.1,1064.7 456.4,1063.5C457.7,1062.3 459.1,1061.1 460.4,1059.9C461.8,1058.7 463.1,1057.5 464.4,1056.3C465.8,1055.1 467.1,1053.9 468.5,1052.6C469.8,1051.4 471.2,1050.1 472.5,1048.9C473.8,1047.6 475.2,1046.3 476.5,1045.0C477.9,1043.8 479.2,1042.5 480.5,1041.2C481.9,1039.9 483.2,1038.5 484.6,1037.2C485.9,1035.9 487.2,1034.5 488.6,1033.2C489.9,1031.8 491.3,1030.4 492.6,1029.1C494.0,1027.7 495.3,1026.3 496.6,1024.9C498.0,1023.5 499.3,1022.0 500.7,1020.6C502.0,1019.1 503.3,1017.7 504.7,1016.2C506.0,1014.7 507.4,1013.2 508.7,1011.7C510.1,1010.2 511.4,1008.7 512.7,1007.1C514.1,1005.5 515.4,1004.0 516.8,1002.4C518.1,1000.8 519.4,999.2 520.8,997.5C522.1,995.9 523.5,994.2 524.8,992.5C526.2,990.8 527.5,989.1 528.8,987.4C530.2,985.6 531.5,983.9 532.9,982.1C534.2,980.3 535.5,978.5 536.9,976.7C538.2,974.8 539.6,972.9 540.9,971.0C542.2,969.2 543.6,967.2 544.9,965.3C546.3,963.3 547.6,961.3 549.0,959.3C550.3,957.3 551.6,955.2 553.0,953.2C554.3,951.1 555.7,949.0 557.0,946.9C558.3,944.8 559.7,942.6 561.0,940.4C562.4,938.3 563.7,936.1 565.1,933.9C566.4,931.7 567.7,929.4 569.1,927.2C570.4,924.9 571.8,922.7 573.1,920.4C574.4,918.1 575.8,915.8 577.1,913.5C578.5,911.2 579.8,908.9 581.1,906.5C582.5,904.2 583.8,901.8 585.2,899.5C586.5,897.1 587.9,894.8 589.2,892.4C590.5,890.1 591.9,887.7 593.2,885.3C594.6,882.9 595.9,880.6 597.2,878.2C598.6,875.8 599.9,873.4 601.3,871.1C602.6,868.7 604.0,866.3 605.3,864.0C606.6,861.6 608.0,859.2 609.3,856.9C610.7,854.5 612.0,852.2 613.3,849.8C614.7,847.5 616.0,845.1 617.4,842.8C618.7,840.5 620.1,838.2 621.4,835.9C622.7,833.6 624.1,831.3 625.4,829.0C626.8,826.8 628.1,824.5 629.4,822.3C630.8,820.0 632.1,817.8 633.5,815.6C634.8,813.4 636.1,811.3 637.5,809.1C638.8,807.0 640.2,804.8 641.5,802.7C642.9,800.6 644.2,798.6 645.5,796.5C646.9,794.5 648.2,792.5 649.6,790.5C650.9,788.5 652.2,786.5 653.6,784.6C654.9,782.7 656.3,780.8 657.6,778.9C659.0,777.1 660.3,775.2 661.6,773.5C663.0,771.7 664.3,769.9 665.7,768.2C667.0,766.5 668.3,764.9 669.7,763.2C671.0,761.6 672.4,760.0 673.7,758.5C675.0,757.0 676.4,755.5 677.7,754.0C679.1,752.6 680.4,751.2 681.8,749.8C683.1,748.5 684.4,747.2 685.8,745.9C687.1,744.7 688.5,743.5 689.8,742.3C691.1,741.2 692.5,740.1 693.8,739.1C695.2,738.1 696.5,737.1 697.9,736.2C699.2,735.3 700.5,734.4 701.9,733.6C703.2,732.8 704.6,732.1 705.9,731.4C707.2,730.8 708.6,730.2 709.9,729.6C711.3,729.1 712.6,728.6 714.0,728.2C715.3,727.8 716.6,727.5 718.0,727.2C719.3,726.9 718.3,727.3 722.0,726.6C725.7,726.0 733.7,724.1 740.0,723.4C746.3,722.7 751.7,722.8 760.0,722.6C768.3,722.4 776.7,722.3 790.0,722.2C803.3,722.1 822.6,721.9 840.0,721.8C857.4,721.7 885.4,721.5 894.5,721.5" fill="none" stroke="#ffa500" stroke-width="4.84" stroke-linejoin="round" stroke-linecap="round"/><path d="M158.6,1184.5C159.3,1184.3 161.3,1183.8 162.6,1183.4C163.9,1183.1 165.3,1182.8 166.6,1182.4C167.9,1182.1 169.3,1181.8 170.6,1181.5C171.9,1181.1 173.3,1180.8 174.6,1180.5C175.9,1180.2 177.3,1179.9 178.6,1179.6C179.9,1179.3 181.3,1179.0 182.6,1178.6C183.9,1178.3 185.3,1178.0 186.6,1177.7C187.9,1177.5 189.3,1177.2 190.6,1176.9C191.9,1176.6 193.3,1176.3 194.6,1176.0C195.9,1175.7 197.3,1175.4 198.6,1175.1C199.9,1174.9 201.3,1174.6 202.6,1174.3C203.9,1174.0 205.3,1173.7 206.6,1173.4C207.9,1173.2 209.3,1172.9 210.6,1172.6C211.9,1172.3 213.3,1172.1 214.6,1171.8C215.9,1171.5 217.3,1171.2 218.6,1170.9C219.9,1170.7 221.3,1170.4 222.6,1170.1C223.9,1169.8 225.3,1169.6 226.6,1169.3C227.9,1169.0 229.3,1168.7 230.6,1168.4C231.9,1168.2 233.3,1167.9 234.6,1167.6C235.9,1167.3 237.3,1167.0 238.6,1166.7C239.9,1166.5 241.3,1166.2 242.6,1165.9C243.9,1165.6 245.3,1165.3 246.6,1165.0C247.9,1164.7 249.3,1164.4 250.6,1164.1C251.9,1163.8 253.3,1163.5 254.6,1163.2C255.9,1162.9 257.3,1162.6 258.6,1162.3C259.9,1162.0 261.3,1161.7 262.6,1161.4C263.9,1161.1 265.3,1160.7 266.6,1160.4C267.9,1160.1 269.3,1159.8 270.6,1159.4C271.9,1159.1 273.3,1158.8 274.6,1158.4C275.9,1158.1 277.3,1157.7 278.6,1157.4C279.9,1157.0 281.3,1156.7 282.6,1156.3C283.9,1155.9 285.3,1155.6 286.6,1155.2C287.9,1154.8 289.3,1154.5 290.6,1154.1C291.9,1153.7 293.3,1153.3 294.6,1152.9C295.9,1152.5 297.3,1152.1 298.6,1151.7C299.9,1151.3 301.3,1150.9 302.6,1150.5C303.9,1150.0 305.3,1149.6 306.6,1149.2C307.9,1148.7 309.3,1148.3 310.6,1147.9C311.9,1147.4 313.3,1146.9 314.6,1146.5C315.9,1146.0 317.3,1145.5 318.6,1145.1C319.9,1144.6 321.3,1144.1 322.6,1143.6C323.9,1143.1 325.3,1142.6 326.6,1142.1C327.9,1141.6 329.3,1141.0 330.6,1140.5C331.9,1140.0 333.3,1139.4 334.6,1138.9C335.9,1138.3 337.3,1137.8 338.6,1137.2C339.9,1136.6 341.3,1136.0 342.6,1135.5C343.9,1134.9 345.3,1134.3 346.6,1133.7C347.9,1133.0 349.3,1132.4 350.6,1131.8C351.9,1131.2 353.3,1130.5 354.6,1129.9C355.9,1129.2 357.3,1128.5 358.6,1127.9C359.9,1127.2 361.3,1126.5 362.6,1125.8C363.9,1125.1 365.3,1124.4 366.6,1123.7C367.9,1123.0 369.3,1122.2 370.6,1121.5C371.9,1120.7 373.3,1120.0 374.6,1119.2C375.9,1118.4 377.3,1117.6 378.6,1116.8C379.9,1116.0 381.3,1115.2 382.6,1114.4C383.9,1113.6 385.3,1112.7 386.6,1111.9C387.9,1111.0 389.3,1110.2 390.6,1109.3C391.9,1108.4 393.3,1107.6 394.6,1106.7C395.9,1105.8 397.3,1104.8 398.6,1103.9C399.9,1103.0 401.3,1102.1 402.6,1101.1C403.9,1100.2 405.3,1099.2 406.6,1098.3C407.9,1097.3 409.3,1096.3 410.6,1095.3C411.9,1094.4 413.3,1093.4 414.6,1092.4C415.9,1091.3 417.3,1090.3 418.6,1089.3C419.9,1088.3 421.3,1087.2 422.6,1086.2C423.9,1085.1 425.3,1084.1 426.6,1083.0C427.9,1082.0 429.3,1080.9 430.6,1079.8C431.9,1078.7 433.3,1077.6 434.6,1076.5C435.9,1075.4 437.3,1074.3 438.6,1073.2C439.9,1072.1 441.3,1071.0 442.6,1069.8C443.9,1068.7 445.3,1067.6 446.6,1066.4C447.9,1065.3 449.3,1064.1 450.6,1062.9C451.9,1061.8 453.3,1060.6 454.6,1059.4C455.9,1058.3 457.3,1057.1 458.6,1055.9C459.9,1054.7 461.3,1053.5 462.6,1052.3C463.9,1051.1 465.3,1049.9 466.6,1048.7C467.9,1047.4 469.3,1046.2 470.6,1045.0C471.9,1043.8 473.3,1042.5 474.6,1041.3C475.9,1040.1 477.3,1038.8 478.6,1037.6C479.9,1036.3 481.3,1035.1 482.6,1033.8C483.9,1032.5 485.3,1031.3 486.6,1030.0C487.9,1028.7 489.3,1027.5 490.6,1026.2C491.9,1024.9 493.3,1023.6 494.6,1022.2C495.9,1020.9 497.3,1019.5 498.6,1018.1C499.9,1016.8 501.3,1015.4 502.6,1013.9C503.9,1012.5 505.3,1011.0 506.6,1009.5C507.9,1008.0 509.3,1006.4 510.6,1004.8C511.9,1003.3 513.3,1001.6 514.6,1000.0C515.9,998.3 517.3,996.6 518.6,994.9C519.9,993.2 521.3,991.5 522.6,989.7C523.9,988.0 525.3,986.2 526.6,984.4C527.9,982.7 529.3,980.9 530.6,979.1C531.9,977.3 533.3,975.5 534.6,973.7C535.9,971.9 537.3,970.0 538.6,968.2C539.9,966.3 541.3,964.4 542.6,962.5C543.9,960.5 545.3,958.6 546.6,956.6C547.9,954.6 549.3,952.5 550.6,950.5C551.9,948.4 553.3,946.3 554.6,944.1C555.9,941.9 557.3,939.7 558.6,937.4C559.9,935.1 561.3,932.8 562.6,930.4C563.9,928.0 565.3,925.5 566.6,923.0C567.9,920.5 569.3,917.9 570.6,915.3C571.9,912.8 573.3,910.1 574.6,907.5C575.9,904.9 577.3,902.2 578.6,899.6C579.9,896.9 581.3,894.3 582.6,891.6C583.9,889.0 585.3,886.4 586.6,883.8C587.9,881.2 589.3,878.6 590.6,876.1C591.9,873.6 593.3,871.1 594.6,868.6C595.9,866.2 597.3,863.8 598.6,861.4C599.9,859.1 601.3,856.7 602.6,854.4C603.9,852.1 605.3,849.9 606.6,847.6C607.9,845.4 609.3,843.1 610.6,840.9C611.9,838.7 613.3,836.6 614.6,834.4C615.9,832.2 617.3,830.1 618.6,828.0C619.9,825.8 621.3,823.7 622.6,821.6C623.9,819.5 625.3,817.4 626.6,815.3C627.9,813.2 629.3,811.1 630.6,809.0C631.9,806.9 633.3,804.8 634.6,802.7C635.9,800.6 637.3,798.5 638.6,796.4C639.9,794.3 641.3,792.2 642.6,790.1C643.9,788.0 645.3,785.9 646.6,783.8C647.9,781.8 649.3,779.7 650.6,777.7C651.9,775.6 653.3,773.6 654.6,771.6C655.9,769.6 657.3,767.6 658.6,765.7C659.9,763.8 661.3,761.9 662.6,760.0C663.9,758.2 665.3,756.4 666.6,754.6C667.9,752.9 669.3,751.1 670.6,749.5C671.9,747.8 673.3,746.2 674.6,744.6C675.9,743.1 677.3,741.6 678.6,740.2C679.9,738.7 681.3,737.4 682.6,736.1C683.9,734.8 685.3,733.6 686.6,732.5C687.9,731.3 689.3,730.3 690.6,729.3C691.9,728.3 693.3,727.4 694.6,726.5C695.9,725.6 697.3,724.8 698.6,723.9C699.9,723.1 701.3,722.3 702.6,721.6C703.9,720.8 705.3,720.1 706.6,719.3C707.9,718.5 709.3,717.8 710.6,717.0C711.9,716.2 713.9,715.0 714.6,714.6" fill="none" stroke="#f00000" stroke-width="4.84" stroke-linejoin="round" stroke-linecap="round"/><path d="M714.6,714.4C716.7,712.4 723.0,705.0 727.2,702.5C731.4,700.0 735.8,699.9 740.0,699.2C744.2,698.5 746.7,698.2 752.4,698.3C758.1,698.3 770.6,699.3 774.2,699.5" fill="none" stroke="#f00000" stroke-width="4.84" stroke-linejoin="round" stroke-linecap="round"/><path d="M650.0,779.0C653.0,775.0 662.0,762.0 668.0,755.0C674.0,748.0 680.2,742.0 686.0,737.0C691.8,732.0 698.0,728.2 703.0,725.0C708.0,721.8 711.5,720.5 716.0,718.0C720.5,715.5 725.2,712.5 730.0,710.0C734.8,707.5 741.3,704.7 745.0,703.0C748.7,701.3 750.8,700.5 752.0,700.0" fill="none" stroke="#f00000" stroke-width="4.84" stroke-linejoin="round" stroke-linecap="round"/><path d="M640.0,793.0C643.3,788.3 653.3,773.2 660.0,765.0C666.7,756.8 673.3,750.0 680.0,744.0C686.7,738.0 694.7,732.8 700.0,729.0C705.3,725.2 707.8,723.5 712.0,721.0C716.2,718.5 720.7,716.2 725.0,714.0C729.3,711.8 735.8,709.0 738.0,708.0" fill="none" stroke="#f00000" stroke-width="4.84" stroke-linejoin="round" stroke-linecap="round"/><path d="M626.6,815.3C627.3,814.3 629.3,811.1 630.6,809.0C631.9,806.9 633.3,804.8 634.6,802.7C635.9,800.6 637.3,798.5 638.6,796.4C639.9,794.3 641.3,792.2 642.6,790.1C643.9,788.0 645.3,785.9 646.6,783.8C647.9,781.8 649.3,779.7 650.6,777.7C651.9,775.6 653.3,773.6 654.6,771.6C655.9,769.6 657.3,767.6 658.6,765.7C659.9,763.8 661.3,761.9 662.6,760.0C663.9,758.2 665.3,756.4 666.6,754.6C667.9,752.9 669.3,751.1 670.6,749.5C671.9,747.8 673.3,746.2 674.6,744.6C675.9,743.1 677.3,741.6 678.6,740.2C679.9,738.7 681.3,737.4 682.6,736.1C683.9,734.8 685.3,733.6 686.6,732.5C687.9,731.3 689.3,730.3 690.6,729.3C691.9,728.3 693.3,727.4 694.6,726.5C695.9,725.6 697.3,724.8 698.6,723.9C699.9,723.1 701.3,722.3 702.6,721.6C703.9,720.8 705.3,720.1 706.6,719.3C707.9,718.5 709.9,717.4 710.6,717.0" fill="none" stroke="#f00000" stroke-width="8" stroke-linejoin="round" stroke-linecap="round"/><path d="M158.6,1182.8C159.3,1182.6 161.3,1182.2 162.6,1182.0C164.0,1181.7 165.3,1181.4 166.6,1181.1C168.0,1180.9 169.3,1180.6 170.7,1180.3C172.0,1180.1 173.3,1179.8 174.7,1179.5C176.0,1179.2 177.4,1178.9 178.7,1178.7C180.1,1178.4 181.4,1178.1 182.7,1177.8C184.1,1177.5 185.4,1177.3 186.8,1177.0C188.1,1176.7 189.4,1176.4 190.8,1176.1C192.1,1175.8 193.5,1175.5 194.8,1175.2C196.1,1174.9 197.5,1174.6 198.8,1174.3C200.2,1174.0 201.5,1173.7 202.8,1173.4C204.2,1173.1 205.5,1172.8 206.9,1172.5C208.2,1172.2 209.5,1171.9 210.9,1171.6C212.2,1171.3 213.6,1171.0 214.9,1170.6C216.3,1170.3 217.6,1170.0 218.9,1169.7C220.3,1169.3 221.6,1169.0 223.0,1168.7C224.3,1168.4 225.6,1168.0 227.0,1167.7C228.3,1167.3 229.7,1167.0 231.0,1166.7C232.3,1166.3 233.7,1166.0 235.0,1165.6C236.4,1165.2 237.7,1164.9 239.0,1164.5C240.4,1164.2 241.7,1163.8 243.1,1163.4C244.4,1163.1 245.7,1162.7 247.1,1162.3C248.4,1161.9 249.8,1161.6 251.1,1161.2C252.5,1160.8 253.8,1160.4 255.1,1160.0C256.5,1159.6 257.8,1159.2 259.2,1158.8C260.5,1158.4 261.8,1158.0 263.2,1157.6C264.5,1157.1 265.9,1156.7 267.2,1156.3C268.5,1155.9 269.9,1155.4 271.2,1155.0C272.6,1154.6 273.9,1154.1 275.2,1153.7C276.6,1153.2 277.9,1152.8 279.3,1152.3C280.6,1151.9 281.9,1151.4 283.3,1150.9C284.6,1150.5 286.0,1150.0 287.3,1149.5C288.7,1149.0 290.0,1148.6 291.3,1148.1C292.7,1147.6 294.0,1147.1 295.4,1146.6C296.7,1146.1 298.0,1145.5 299.4,1145.0C300.7,1144.5 302.1,1144.0 303.4,1143.5C304.7,1142.9 306.1,1142.4 307.4,1141.8C308.8,1141.3 310.1,1140.7 311.4,1140.2C312.8,1139.6 314.1,1139.1 315.5,1138.5C316.8,1137.9 318.1,1137.3 319.5,1136.8C320.8,1136.2 322.2,1135.6 323.5,1135.0C324.9,1134.4 326.2,1133.8 327.5,1133.1C328.9,1132.5 330.2,1131.9 331.6,1131.3C332.9,1130.6 334.2,1130.0 335.6,1129.4C336.9,1128.7 338.3,1128.1 339.6,1127.4C340.9,1126.7 342.3,1126.1 343.6,1125.4C345.0,1124.7 346.3,1124.0 347.6,1123.3C349.0,1122.6 350.3,1121.9 351.7,1121.2C353.0,1120.5 354.3,1119.8 355.7,1119.0C357.0,1118.3 358.4,1117.6 359.7,1116.8C361.1,1116.1 362.4,1115.3 363.7,1114.5C365.1,1113.8 366.4,1113.0 367.8,1112.2C369.1,1111.4 370.4,1110.6 371.8,1109.8C373.1,1109.0 374.5,1108.2 375.8,1107.4C377.1,1106.6 378.5,1105.7 379.8,1104.9C381.2,1104.0 382.5,1103.2 383.8,1102.3C385.2,1101.5 386.5,1100.6 387.9,1099.7C389.2,1098.8 390.5,1097.9 391.9,1097.0C393.2,1096.1 394.6,1095.2 395.9,1094.3C397.3,1093.3 398.6,1092.4 399.9,1091.4C401.3,1090.5 402.6,1089.5 404.0,1088.5C405.3,1087.5 406.6,1086.5 408.0,1085.5C409.3,1084.5 410.7,1083.5 412.0,1082.5C413.3,1081.4 414.7,1080.4 416.0,1079.3C417.4,1078.2 418.7,1077.1 420.0,1076.0C421.4,1074.9 422.7,1073.8 424.1,1072.7C425.4,1071.6 426.7,1070.4 428.1,1069.3C429.4,1068.1 430.8,1066.9 432.1,1065.7C433.5,1064.5 434.8,1063.3 436.1,1062.1C437.5,1060.8 438.8,1059.6 440.2,1058.3C441.5,1057.0 442.8,1055.7 444.2,1054.4C445.5,1053.1 446.9,1051.8 448.2,1050.4C449.5,1049.1 450.9,1047.7 452.2,1046.3C453.6,1044.9 454.9,1043.5 456.2,1042.1C457.6,1040.7 458.9,1039.2 460.3,1037.7C461.6,1036.3 462.9,1034.8 464.3,1033.2C465.6,1031.7 467.0,1030.2 468.3,1028.6C469.7,1027.1 471.0,1025.5 472.3,1023.9C473.7,1022.2 475.0,1020.6 476.4,1019.0C477.7,1017.3 479.0,1015.6 480.4,1013.9C481.7,1012.2 483.1,1010.5 484.4,1008.7C485.7,1007.0 487.1,1005.2 488.4,1003.4C489.8,1001.6 491.1,999.7 492.4,997.9C493.8,996.0 495.1,994.1 496.5,992.2C497.8,990.3 499.1,988.3 500.5,986.4C501.8,984.4 503.2,982.4 504.5,980.4C505.9,978.4 507.2,976.3 508.5,974.2C509.9,972.1 511.2,970.0 512.6,967.9C513.9,965.8 515.2,963.6 516.6,961.4C517.9,959.2 519.3,957.0 520.6,954.7C521.9,952.5 523.3,950.2 524.6,947.9C526.0,945.6 527.3,943.2 528.6,940.9C530.0,938.5 531.3,936.1 532.7,933.7C534.0,931.3 535.3,928.8 536.7,926.4C538.0,923.9 539.4,921.4 540.7,918.9C542.1,916.3 543.4,913.8 544.7,911.2C546.1,908.6 547.4,906.0 548.8,903.4C550.1,900.8 551.4,898.1 552.8,895.4C554.1,892.7 555.5,890.0 556.8,887.3C558.1,884.5 559.5,881.7 560.8,879.0C562.2,876.2 563.5,873.3 564.8,870.5C566.2,867.7 567.5,864.8 568.9,861.9C570.2,859.0 571.5,856.1 572.9,853.1C574.2,850.2 575.6,847.2 576.9,844.2C578.3,841.2 579.6,838.2 580.9,835.1C582.3,832.1 583.6,829.0 585.0,826.0C586.3,822.9 587.6,819.8 589.0,816.7C590.3,813.5 591.7,810.4 593.0,807.2C594.3,804.1 595.7,800.9 597.0,797.7C598.4,794.5 599.7,791.3 601.0,788.1C602.4,784.9 603.7,781.7 605.1,778.4C606.4,775.2 607.7,771.9 609.1,768.7C610.4,765.4 611.8,762.1 613.1,758.8C614.5,755.5 615.8,752.2 617.1,748.9C618.5,745.6 619.8,742.3 621.2,739.0C622.5,735.7 623.8,732.3 625.2,729.0C626.5,725.7 628.5,720.7 629.2,719.0" fill="none" stroke="#800000" stroke-width="4.84" stroke-linejoin="round" stroke-linecap="round"/><path d="M536.7,926.4C537.4,925.1 539.4,921.4 540.7,918.9C542.1,916.3 543.4,913.8 544.7,911.2C546.1,908.6 547.4,906.0 548.8,903.4C550.1,900.8 551.4,898.1 552.8,895.4C554.1,892.7 555.5,890.0 556.8,887.3C558.1,884.5 559.5,881.7 560.8,879.0C562.2,876.2 563.5,873.3 564.8,870.5C566.2,867.7 567.5,864.8 568.9,861.9C570.2,859.0 571.5,856.1 572.9,853.1C574.2,850.2 575.6,847.2 576.9,844.2C578.3,841.2 579.6,838.2 580.9,835.1C582.3,832.1 583.6,829.0 585.0,826.0C586.3,822.9 587.6,819.8 589.0,816.7C590.3,813.5 591.7,810.4 593.0,807.2C594.3,804.1 595.7,800.9 597.0,797.7C598.4,794.5 599.7,791.3 601.0,788.1C602.4,784.9 603.7,781.7 605.1,778.4C606.4,775.2 607.7,771.9 609.1,768.7C610.4,765.4 611.8,762.1 613.1,758.8C614.5,755.5 615.8,752.2 617.1,748.9C618.5,745.6 619.8,742.3 621.2,739.0C622.5,735.7 623.8,732.3 625.2,729.0C626.5,725.7 628.5,720.7 629.2,719.0" fill="none" stroke="#800000" stroke-width="8.5" stroke-linejoin="round" stroke-linecap="round"/></g>
<line x1="707.78" y1="648.90" x2="707.78" y2="1185.40" stroke="#000" stroke-width="2.4"/>
<path d="M158.60,1185.40v-19.4M158.60,648.90v19.4M289.36,1185.40v-19.4M289.36,648.90v19.4M420.12,1185.40v-19.4M420.12,648.90v19.4M550.87,1185.40v-19.4M550.87,648.90v19.4M681.63,1185.40v-19.4M681.63,648.90v19.4M812.39,1185.40v-19.4M812.39,648.90v19.4M943.15,1185.40v-19.4M943.15,648.90v19.4M158.60,1185.40h19.4M969.30,1185.40h-19.4M158.60,1051.28h19.4M969.30,1051.28h-19.4M158.60,917.15h19.4M969.30,917.15h-19.4M158.60,783.02h19.4M969.30,783.02h-19.4M158.60,648.90h19.4M969.30,648.90h-19.4" stroke="#000" stroke-width="2.4" fill="none"/>
<rect x="158.60" y="648.90" width="810.70" height="536.50" fill="none" stroke="#000" stroke-width="4.84"/>
<text x="72.35" y="1194.90" font-size="38.7">0.10</text>
<text x="72.39" y="1060.78" font-size="38.7">0.15</text>
<text x="72.35" y="926.65" font-size="38.7">0.20</text>
<text x="72.39" y="792.52" font-size="38.7">0.25</text>
<text x="72.35" y="658.40" font-size="38.7">0.30</text>
<clipPath id="clipd"><rect x="1182.3" y="648.9" width="811.2" height="536.5000000000001"/></clipPath>
<g clip-path="url(#clipd)"><path d="M1182.3,706.0C1183.1,706.2 1185.6,706.9 1187.3,707.3C1189.0,707.8 1190.7,708.3 1192.3,708.7C1194.0,709.2 1195.7,709.7 1197.3,710.1C1199.0,710.6 1200.7,711.1 1202.4,711.6C1204.0,712.1 1205.7,712.6 1207.4,713.1C1209.0,713.6 1210.7,714.1 1212.4,714.6C1214.1,715.2 1215.7,715.7 1217.4,716.2C1219.1,716.8 1220.7,717.3 1222.4,717.8C1224.1,718.4 1225.8,719.0 1227.4,719.5C1229.1,720.1 1230.8,720.6 1232.4,721.2C1234.1,721.8 1235.8,722.4 1237.5,723.0C1239.1,723.6 1240.8,724.2 1242.5,724.8C1244.2,725.4 1245.8,726.0 1247.5,726.6C1249.2,727.2 1250.8,727.8 1252.5,728.5C1254.2,729.1 1255.9,729.7 1257.5,730.4C1259.2,731.0 1260.9,731.7 1262.5,732.4C1264.2,733.0 1265.9,733.7 1267.6,734.4C1269.2,735.0 1270.9,735.7 1272.6,736.4C1274.2,737.1 1275.9,737.8 1277.6,738.5C1279.3,739.2 1280.9,739.9 1282.6,740.7C1284.3,741.4 1285.9,742.1 1287.6,742.9C1289.3,743.6 1291.0,744.4 1292.6,745.1C1294.3,745.9 1296.0,746.6 1297.6,747.4C1299.3,748.2 1301.0,748.9 1302.7,749.7C1304.3,750.5 1306.0,751.3 1307.7,752.1C1309.3,752.9 1311.0,753.7 1312.7,754.5C1314.4,755.4 1316.0,756.2 1317.7,757.0C1319.4,757.9 1321.0,758.7 1322.7,759.6C1324.4,760.4 1326.1,761.3 1327.7,762.1C1329.4,763.0 1331.1,763.9 1332.7,764.8C1334.4,765.6 1336.1,766.5 1337.8,767.4C1339.4,768.3 1341.1,769.2 1342.8,770.2C1344.4,771.1 1346.1,772.0 1347.8,772.9C1349.5,773.9 1351.1,774.8 1352.8,775.8C1354.5,776.7 1356.1,777.7 1357.8,778.7C1359.5,779.6 1361.2,780.6 1362.8,781.6C1364.5,782.6 1366.2,783.6 1367.9,784.6C1369.5,785.6 1371.2,786.6 1372.9,787.6C1374.5,788.7 1376.2,789.7 1377.9,790.7C1379.6,791.8 1381.2,792.8 1382.9,793.9C1384.6,794.9 1386.2,796.0 1387.9,797.1C1389.6,798.2 1391.3,799.2 1392.9,800.3C1394.6,801.4 1396.3,802.5 1397.9,803.6C1399.6,804.8 1401.3,805.9 1403.0,807.0C1404.6,808.1 1406.3,809.3 1408.0,810.4C1409.6,811.6 1411.3,812.7 1413.0,813.9C1414.7,815.1 1416.3,816.3 1418.0,817.5C1419.7,818.6 1421.3,819.8 1423.0,821.0C1424.7,822.3 1426.4,823.5 1428.0,824.7C1429.7,825.9 1431.4,827.2 1433.0,828.4C1434.7,829.6 1436.4,830.9 1438.1,832.2C1439.7,833.4 1441.4,834.7 1443.1,836.0C1444.7,837.3 1446.4,838.6 1448.1,839.9C1449.8,841.2 1451.4,842.5 1453.1,843.8C1454.8,845.1 1456.4,846.5 1458.1,847.8C1459.8,849.2 1461.5,850.5 1463.1,851.9C1464.8,853.2 1466.5,854.6 1468.1,856.0C1469.8,857.4 1471.5,858.8 1473.2,860.2C1474.8,861.6 1476.5,863.0 1478.2,864.4C1479.9,865.8 1481.5,867.2 1483.2,868.7C1484.9,870.1 1486.5,871.5 1488.2,873.0C1489.9,874.4 1491.6,875.9 1493.2,877.3C1494.9,878.8 1496.6,880.3 1498.2,881.8C1499.9,883.2 1501.6,884.7 1503.3,886.2C1504.9,887.7 1506.6,889.2 1508.3,890.7C1509.9,892.2 1511.6,893.7 1513.3,895.3C1515.0,896.8 1516.6,898.3 1518.3,899.8C1520.0,901.4 1521.6,902.9 1523.3,904.4C1525.0,906.0 1526.7,907.5 1528.3,909.1C1530.0,910.6 1531.7,912.2 1533.3,913.7C1535.0,915.3 1536.7,916.9 1538.4,918.5C1540.0,920.0 1541.7,921.6 1543.4,923.2C1545.0,924.8 1546.7,926.4 1548.4,927.9C1550.1,929.5 1551.7,931.1 1553.4,932.7C1555.1,934.3 1556.7,935.9 1558.4,937.5C1560.1,939.1 1561.8,940.7 1563.4,942.4C1565.1,944.0 1566.8,945.6 1568.4,947.2C1570.1,948.8 1571.8,950.4 1573.5,952.1C1575.1,953.7 1576.8,955.3 1578.5,956.9C1580.1,958.6 1581.8,960.2 1583.5,961.9C1585.2,963.5 1586.8,965.1 1588.5,966.8C1590.2,968.4 1591.8,970.1 1593.5,971.7C1595.2,973.4 1596.9,975.1 1598.5,976.7C1600.2,978.4 1601.9,980.1 1603.6,981.7C1605.2,983.4 1606.9,985.1 1608.6,986.8C1610.2,988.5 1611.9,990.2 1613.6,991.9C1615.3,993.6 1616.9,995.3 1618.6,997.0C1620.3,998.7 1621.9,1000.4 1623.6,1002.2C1625.3,1003.9 1627.0,1005.6 1628.6,1007.4C1630.3,1009.1 1632.0,1010.9 1633.6,1012.6C1635.3,1014.4 1637.0,1016.1 1638.7,1017.9C1640.3,1019.7 1642.0,1021.5 1643.7,1023.2C1645.3,1025.0 1647.0,1026.8 1648.7,1028.6C1650.4,1030.4 1652.9,1033.2 1653.7,1034.1L1672.9,1063.0L1695.8,1089.6L1714.2,1115.3L1729.8,1134.5L1740.8,1107.9L1747.2,1076.8L1751.8,1054.8L1753.5,1049.3L1918.8,1049.3" fill="none" stroke="#ffa500" stroke-width="4.84" stroke-linejoin="round" stroke-linecap="round"/><path d="M1182.3,706.0C1183.1,706.2 1185.6,706.9 1187.3,707.3C1189.0,707.8 1190.7,708.3 1192.3,708.7C1194.0,709.2 1195.7,709.7 1197.3,710.1C1199.0,710.6 1200.7,711.1 1202.4,711.6C1204.0,712.1 1205.7,712.6 1207.4,713.1C1209.0,713.6 1210.7,714.1 1212.4,714.6C1214.1,715.2 1215.7,715.7 1217.4,716.2C1219.1,716.8 1220.7,717.3 1222.4,717.8C1224.1,718.4 1225.8,719.0 1227.4,719.5C1229.1,720.1 1230.8,720.6 1232.4,721.2C1234.1,721.8 1235.8,722.4 1237.5,723.0C1239.1,723.6 1240.8,724.2 1242.5,724.8C1244.2,725.4 1245.8,726.0 1247.5,726.6C1249.2,727.2 1250.8,727.8 1252.5,728.5C1254.2,729.1 1255.9,729.7 1257.5,730.4C1259.2,731.0 1260.9,731.7 1262.5,732.4C1264.2,733.0 1265.9,733.7 1267.6,734.4C1269.2,735.0 1270.9,735.7 1272.6,736.4C1274.2,737.1 1275.9,737.8 1277.6,738.5C1279.3,739.2 1280.9,739.9 1282.6,740.7C1284.3,741.4 1285.9,742.1 1287.6,742.9C1289.3,743.6 1291.0,744.4 1292.6,745.1C1294.3,745.9 1296.0,746.6 1297.6,747.4C1299.3,748.2 1301.0,748.9 1302.7,749.7C1304.3,750.5 1306.0,751.3 1307.7,752.1C1309.3,752.9 1311.0,753.7 1312.7,754.5C1314.4,755.4 1316.0,756.2 1317.7,757.0C1319.4,757.9 1321.0,758.7 1322.7,759.6C1324.4,760.4 1326.1,761.3 1327.7,762.1C1329.4,763.0 1331.1,763.9 1332.7,764.8C1334.4,765.6 1336.1,766.5 1337.8,767.4C1339.4,768.3 1341.1,769.2 1342.8,770.2C1344.4,771.1 1346.1,772.0 1347.8,772.9C1349.5,773.9 1351.1,774.8 1352.8,775.8C1354.5,776.7 1356.1,777.7 1357.8,778.7C1359.5,779.6 1361.2,780.6 1362.8,781.6C1364.5,782.6 1366.2,783.6 1367.9,784.6C1369.5,785.6 1371.2,786.6 1372.9,787.6C1374.5,788.7 1376.2,789.7 1377.9,790.7C1379.6,791.8 1381.2,792.8 1382.9,793.9C1384.6,794.9 1386.2,796.0 1387.9,797.1C1389.6,798.2 1391.3,799.2 1392.9,800.3C1394.6,801.4 1396.3,802.5 1397.9,803.6C1399.6,804.8 1401.3,805.9 1403.0,807.0C1404.6,808.1 1406.3,809.3 1408.0,810.4C1409.6,811.6 1411.3,812.7 1413.0,813.9C1414.7,815.1 1416.3,816.3 1418.0,817.5C1419.7,818.6 1421.3,819.8 1423.0,821.0C1424.7,822.3 1426.4,823.5 1428.0,824.7C1429.7,825.9 1431.4,827.2 1433.0,828.4C1434.7,829.6 1436.4,830.9 1438.1,832.2C1439.7,833.4 1441.4,834.7 1443.1,836.0C1444.7,837.3 1446.4,838.6 1448.1,839.9C1449.8,841.2 1451.4,842.5 1453.1,843.8C1454.8,845.1 1456.4,846.5 1458.1,847.8C1459.8,849.2 1461.5,850.5 1463.1,851.9C1464.8,853.2 1466.5,854.6 1468.1,856.0C1469.8,857.4 1471.5,858.8 1473.2,860.2C1474.8,861.6 1476.5,863.0 1478.2,864.4C1479.9,865.8 1481.5,867.2 1483.2,868.7C1484.9,870.1 1486.5,871.5 1488.2,873.0C1489.9,874.4 1491.6,875.9 1493.2,877.3C1494.9,878.8 1496.6,880.3 1498.2,881.8C1499.9,883.2 1501.6,884.7 1503.3,886.2C1504.9,887.7 1506.6,889.2 1508.3,890.7C1509.9,892.2 1511.6,893.7 1513.3,895.3C1515.0,896.8 1516.6,898.3 1518.3,899.8C1520.0,901.4 1521.6,902.9 1523.3,904.4C1525.0,906.0 1526.7,907.5 1528.3,909.1C1530.0,910.6 1531.7,912.2 1533.3,913.7C1535.0,915.3 1536.7,916.9 1538.4,918.5C1540.0,920.0 1541.7,921.6 1543.4,923.2C1545.0,924.8 1546.7,926.4 1548.4,927.9C1550.1,929.5 1551.7,931.1 1553.4,932.7C1555.1,934.3 1556.7,935.9 1558.4,937.5C1560.1,939.1 1561.8,940.7 1563.4,942.4C1565.1,944.0 1566.8,945.6 1568.4,947.2C1570.1,948.8 1571.8,950.4 1573.5,952.1C1575.1,953.7 1576.8,955.3 1578.5,956.9C1580.1,958.6 1581.8,960.2 1583.5,961.9C1585.2,963.5 1586.8,965.1 1588.5,966.8C1590.2,968.4 1591.8,970.1 1593.5,971.7C1595.2,973.4 1596.9,975.1 1598.5,976.7C1600.2,978.4 1601.9,980.1 1603.6,981.7C1605.2,983.4 1606.9,985.1 1608.6,986.8C1610.2,988.5 1611.9,990.2 1613.6,991.9C1615.3,993.6 1616.9,995.3 1618.6,997.0C1620.3,998.7 1621.9,1000.4 1623.6,1002.2C1625.3,1003.9 1627.0,1005.6 1628.6,1007.4C1630.3,1009.1 1632.0,1010.9 1633.6,1012.6C1635.3,1014.4 1637.0,1016.1 1638.7,1017.9C1640.3,1019.7 1642.0,1021.5 1643.7,1023.2C1645.3,1025.0 1647.0,1026.8 1648.7,1028.6C1650.4,1030.4 1652.9,1033.2 1653.7,1034.1" fill="none" stroke="#f00000" stroke-width="4.84" stroke-linejoin="round" stroke-linecap="round"/><path d="M1652.7,1034.0C1653.8,1037.2 1655.8,1045.9 1659.2,1052.9C1662.6,1059.9 1667.6,1067.7 1672.9,1075.8C1678.2,1083.9 1686.0,1094.6 1691.3,1101.5C1696.6,1108.4 1700.4,1113.1 1705.0,1117.1C1709.6,1121.1 1714.7,1123.7 1718.8,1125.4C1722.9,1127.1 1726.9,1127.8 1729.8,1127.2C1732.7,1126.6 1734.3,1124.9 1736.0,1122.0C1737.7,1119.1 1739.3,1112.0 1740.0,1110.0" fill="none" stroke="#f00000" stroke-width="4.5" stroke-linejoin="round" stroke-linecap="round"/><path d="M1652.7,1034.0C1653.2,1035.3 1652.1,1038.0 1655.5,1041.9C1658.9,1045.8 1666.2,1052.3 1672.9,1057.5C1679.6,1062.7 1688.2,1068.2 1695.8,1073.1C1703.4,1078.0 1713.0,1085.4 1718.8,1086.8C1724.6,1088.2 1726.9,1084.3 1730.7,1081.3C1734.5,1078.2 1738.3,1073.8 1741.7,1068.5C1745.1,1063.2 1749.4,1052.7 1750.9,1049.5" fill="none" stroke="#f00000" stroke-width="4.5" stroke-linejoin="round" stroke-linecap="round"/><path d="M1654.0,1038.0C1656.7,1041.7 1664.0,1053.3 1670.0,1060.0C1676.0,1066.7 1683.3,1072.7 1690.0,1078.0C1696.7,1083.3 1704.2,1088.3 1710.0,1092.0C1715.8,1095.7 1720.8,1097.8 1725.0,1100.0C1729.2,1102.2 1732.2,1105.3 1735.0,1105.0C1737.8,1104.7 1739.7,1103.5 1742.0,1098.0C1744.3,1092.5 1747.5,1074.2 1749.0,1072.0C1750.5,1069.8 1751.3,1079.0 1751.0,1085.0C1750.7,1091.0 1748.5,1102.8 1747.0,1108.0C1745.5,1113.2 1742.8,1114.7 1742.0,1116.0" fill="none" stroke="#f00000" stroke-width="4.5" stroke-linejoin="round" stroke-linecap="round"/><path d="M1655.0,1040.0C1657.2,1044.2 1663.0,1057.5 1668.0,1065.0C1673.0,1072.5 1678.8,1078.7 1685.0,1085.0C1691.2,1091.3 1698.8,1098.5 1705.0,1103.0C1711.2,1107.5 1717.5,1109.5 1722.0,1112.0C1726.5,1114.5 1730.3,1117.0 1732.0,1118.0" fill="none" stroke="#f00000" stroke-width="4.5" stroke-linejoin="round" stroke-linecap="round"/><path d="M1737.0,1115.0C1738.3,1112.5 1741.2,1106.7 1745.0,1100.0C1748.8,1093.3 1756.0,1082.5 1760.0,1075.0C1764.0,1067.5 1767.2,1059.2 1769.0,1055.0C1770.8,1050.8 1770.7,1050.4 1771.0,1049.5" fill="none" stroke="#f00000" stroke-width="4.5" stroke-linejoin="round" stroke-linecap="round"/><path d="M1680.0,1068.0C1683.3,1070.5 1693.3,1078.5 1700.0,1083.0C1706.7,1087.5 1714.5,1092.2 1720.0,1095.0C1725.5,1097.8 1730.8,1099.2 1733.0,1100.0" fill="none" stroke="#f00000" stroke-width="4.5" stroke-linejoin="round" stroke-linecap="round"/><path d="M1751.0,1049.3 L1796.6,1049.3" fill="none" stroke="#f00000" stroke-width="4.84" stroke-linejoin="round" stroke-linecap="round"/><path d="M1668.0,1060.0C1671.7,1062.5 1683.0,1070.2 1690.0,1075.0C1697.0,1079.8 1704.0,1085.0 1710.0,1089.0C1716.0,1093.0 1723.3,1097.3 1726.0,1099.0" fill="none" stroke="#f00000" stroke-width="9" stroke-linejoin="round" stroke-linecap="round"/><path d="M1182.3,706.0C1183.1,706.2 1185.6,706.9 1187.3,707.3C1189.0,707.8 1190.7,708.3 1192.3,708.7C1194.0,709.2 1195.7,709.7 1197.3,710.1C1199.0,710.6 1200.7,711.1 1202.4,711.6C1204.0,712.1 1205.7,712.6 1207.4,713.1C1209.0,713.6 1210.7,714.1 1212.4,714.6C1214.1,715.2 1215.7,715.7 1217.4,716.2C1219.1,716.8 1220.7,717.3 1222.4,717.8C1224.1,718.4 1225.8,719.0 1227.4,719.5C1229.1,720.1 1230.8,720.6 1232.4,721.2C1234.1,721.8 1235.8,722.4 1237.5,723.0C1239.1,723.6 1240.8,724.2 1242.5,724.8C1244.2,725.4 1245.8,726.0 1247.5,726.6C1249.2,727.2 1250.8,727.8 1252.5,728.5C1254.2,729.1 1255.9,729.7 1257.5,730.4C1259.2,731.0 1260.9,731.7 1262.5,732.4C1264.2,733.0 1265.9,733.7 1267.6,734.4C1269.2,735.0 1270.9,735.7 1272.6,736.4C1274.2,737.1 1275.9,737.8 1277.6,738.5C1279.3,739.2 1280.9,739.9 1282.6,740.7C1284.3,741.4 1285.9,742.1 1287.6,742.9C1289.3,743.6 1291.0,744.4 1292.6,745.1C1294.3,745.9 1296.0,746.6 1297.6,747.4C1299.3,748.2 1301.0,748.9 1302.7,749.7C1304.3,750.5 1306.0,751.3 1307.7,752.1C1309.3,752.9 1311.0,753.7 1312.7,754.5C1314.4,755.4 1316.0,756.2 1317.7,757.0C1319.4,757.9 1321.0,758.7 1322.7,759.6C1324.4,760.4 1326.1,761.3 1327.7,762.1C1329.4,763.0 1331.1,763.9 1332.7,764.8C1334.4,765.6 1336.1,766.5 1337.8,767.4C1339.4,768.3 1341.1,769.2 1342.8,770.2C1344.4,771.1 1346.1,772.0 1347.8,772.9C1349.5,773.9 1351.1,774.8 1352.8,775.8C1354.5,776.7 1356.1,777.7 1357.8,778.7C1359.5,779.6 1361.2,780.6 1362.8,781.6C1364.5,782.6 1366.2,783.6 1367.9,784.6C1369.5,785.6 1371.2,786.6 1372.9,787.6C1374.5,788.7 1376.2,789.7 1377.9,790.7C1379.6,791.8 1381.2,792.8 1382.9,793.9C1384.6,794.9 1386.2,796.0 1387.9,797.1C1389.6,798.2 1391.3,799.2 1392.9,800.3C1394.6,801.4 1396.3,802.5 1397.9,803.6C1399.6,804.8 1401.3,805.9 1403.0,807.0C1404.6,808.1 1406.3,809.3 1408.0,810.4C1409.6,811.6 1411.3,812.7 1413.0,813.9C1414.7,815.1 1416.3,816.3 1418.0,817.5C1419.7,818.6 1421.3,819.8 1423.0,821.0C1424.7,822.3 1426.4,823.5 1428.0,824.7C1429.7,825.9 1431.4,827.2 1433.0,828.4C1434.7,829.6 1436.4,830.9 1438.1,832.2C1439.7,833.4 1441.4,834.7 1443.1,836.0C1444.7,837.3 1446.4,838.6 1448.1,839.9C1449.8,841.2 1451.4,842.5 1453.1,843.8C1454.8,845.1 1456.4,846.5 1458.1,847.8C1459.8,849.2 1461.5,850.5 1463.1,851.9C1464.8,853.2 1466.5,854.6 1468.1,856.0C1469.8,857.4 1471.5,858.8 1473.2,860.2C1474.8,861.6 1476.5,863.0 1478.2,864.4C1479.9,865.8 1481.5,867.2 1483.2,868.7C1484.9,870.1 1486.5,871.5 1488.2,873.0C1489.9,874.4 1491.6,875.9 1493.2,877.3C1494.9,878.8 1496.6,880.3 1498.2,881.8C1499.9,883.2 1501.6,884.7 1503.3,886.2C1504.9,887.7 1506.6,889.2 1508.3,890.7C1509.9,892.2 1511.6,893.7 1513.3,895.3C1515.0,896.8 1516.6,898.3 1518.3,899.8C1520.0,901.4 1521.6,902.9 1523.3,904.4C1525.0,906.0 1526.7,907.5 1528.3,909.1C1530.0,910.6 1531.7,912.2 1533.3,913.7C1535.0,915.3 1536.7,916.9 1538.4,918.5C1540.0,920.0 1541.7,921.6 1543.4,923.2C1545.0,924.8 1546.7,926.4 1548.4,927.9C1550.1,929.5 1551.7,931.1 1553.4,932.7C1555.1,934.3 1556.7,935.9 1558.4,937.5C1560.1,939.1 1561.8,940.7 1563.4,942.4C1565.1,944.0 1566.8,945.6 1568.4,947.2C1570.1,948.8 1571.8,950.4 1573.5,952.1C1575.1,953.7 1576.8,955.3 1578.5,956.9C1580.1,958.6 1581.8,960.2 1583.5,961.9C1585.2,963.5 1586.8,965.1 1588.5,966.8C1590.2,968.4 1591.8,970.1 1593.5,971.7C1595.2,973.4 1596.9,975.1 1598.5,976.7C1600.2,978.4 1601.9,980.1 1603.6,981.7C1605.2,983.4 1606.9,985.1 1608.6,986.8C1610.2,988.5 1611.9,990.2 1613.6,991.9C1615.3,993.6 1616.9,995.3 1618.6,997.0C1620.3,998.7 1621.9,1000.4 1623.6,1002.2C1625.3,1003.9 1627.0,1005.6 1628.6,1007.4C1630.3,1009.1 1632.0,1010.9 1633.6,1012.6C1635.3,1014.4 1637.0,1016.1 1638.7,1017.9C1640.3,1019.7 1642.0,1021.5 1643.7,1023.2C1645.3,1025.0 1647.8,1027.7 1648.7,1028.6" fill="none" stroke="#800000" stroke-width="4.84" stroke-linejoin="round" stroke-linecap="round"/><path d="M1536.0,912.5C1537.5,913.5 1539.9,914.5 1545.0,918.5C1550.1,922.5 1559.3,930.3 1566.4,936.5C1573.5,942.7 1580.7,949.0 1587.8,955.8C1594.9,962.6 1602.1,970.1 1609.2,977.2C1616.3,984.3 1624.4,992.2 1630.6,998.6C1636.8,1005.0 1642.8,1010.9 1646.6,1015.7C1650.4,1020.5 1652.1,1024.7 1653.5,1027.5C1654.9,1030.3 1655.3,1031.3 1655.0,1032.5C1654.7,1033.7 1652.9,1034.7 1651.5,1034.5C1650.1,1034.3 1650.1,1034.2 1646.6,1031.5C1643.1,1028.8 1636.8,1023.9 1630.6,1018.5C1624.4,1013.1 1616.3,1006.0 1609.2,999.3C1602.1,992.5 1594.0,984.4 1587.8,978.0C1581.5,971.6 1577.0,967.0 1571.7,960.8C1566.4,954.5 1560.2,946.3 1555.7,940.5C1551.2,934.7 1548.3,930.0 1545.0,926.0C1541.7,922.0 1537.5,918.1 1536.0,916.5Z" fill="#800000" stroke="#800000" stroke-width="1.5" stroke-linejoin="round"/><path d="M1182.3,706.0C1183.1,706.2 1185.6,706.9 1187.3,707.3C1189.0,707.8 1190.7,708.3 1192.3,708.7C1194.0,709.2 1195.7,709.7 1197.3,710.1C1199.0,710.6 1200.7,711.1 1202.4,711.6C1204.0,712.1 1205.7,712.6 1207.4,713.1C1209.0,713.6 1210.7,714.1 1212.4,714.6C1214.1,715.2 1215.7,715.7 1217.4,716.2C1219.1,716.8 1220.7,717.3 1222.4,717.8C1224.1,718.4 1225.8,719.0 1227.4,719.5C1229.1,720.1 1230.8,720.6 1232.4,721.2C1234.1,721.8 1235.8,722.4 1237.5,723.0C1239.1,723.6 1240.8,724.2 1242.5,724.8C1244.2,725.4 1245.8,726.0 1247.5,726.6C1249.2,727.2 1250.8,727.8 1252.5,728.5C1254.2,729.1 1255.9,729.7 1257.5,730.4C1259.2,731.0 1260.9,731.7 1262.5,732.4C1264.2,733.0 1265.9,733.7 1267.6,734.4C1269.2,735.0 1270.9,735.7 1272.6,736.4C1274.2,737.1 1275.9,737.8 1277.6,738.5C1279.3,739.2 1280.9,739.9 1282.6,740.7C1284.3,741.4 1285.9,742.1 1287.6,742.9C1289.3,743.6 1291.0,744.4 1292.6,745.1C1294.3,745.9 1296.0,746.6 1297.6,747.4C1299.3,748.2 1301.0,748.9 1302.7,749.7C1304.3,750.5 1306.0,751.3 1307.7,752.1C1309.3,752.9 1311.0,753.7 1312.7,754.5C1314.4,755.4 1316.0,756.2 1317.7,757.0C1319.4,757.9 1321.0,758.7 1322.7,759.6C1324.4,760.4 1326.1,761.3 1327.7,762.1C1329.4,763.0 1331.1,763.9 1332.7,764.8C1334.4,765.6 1336.1,766.5 1337.8,767.4C1339.4,768.3 1341.1,769.2 1342.8,770.2C1344.4,771.1 1346.1,772.0 1347.8,772.9C1349.5,773.9 1351.1,774.8 1352.8,775.8C1354.5,776.7 1356.1,777.7 1357.8,778.7C1359.5,779.6 1361.2,780.6 1362.8,781.6C1364.5,782.6 1366.2,783.6 1367.9,784.6C1369.5,785.6 1371.2,786.6 1372.9,787.6C1374.5,788.7 1376.2,789.7 1377.9,790.7C1379.6,791.8 1381.2,792.8 1382.9,793.9C1384.6,794.9 1386.2,796.0 1387.9,797.1C1389.6,798.2 1391.3,799.2 1392.9,800.3C1394.6,801.4 1396.3,802.5 1397.9,803.6C1399.6,804.8 1401.3,805.9 1403.0,807.0C1404.6,808.1 1406.3,809.3 1408.0,810.4C1409.6,811.6 1411.3,812.7 1413.0,813.9C1414.7,815.1 1416.3,816.3 1418.0,817.5C1419.7,818.6 1421.3,819.8 1423.0,821.0C1424.7,822.3 1426.4,823.5 1428.0,824.7C1429.7,825.9 1431.4,827.2 1433.0,828.4C1434.7,829.6 1436.4,830.9 1438.1,832.2C1439.7,833.4 1441.4,834.7 1443.1,836.0C1444.7,837.3 1446.4,838.6 1448.1,839.9C1449.8,841.2 1451.4,842.5 1453.1,843.8C1454.8,845.1 1456.4,846.5 1458.1,847.8C1459.8,849.2 1461.5,850.5 1463.1,851.9C1464.8,853.2 1466.5,854.6 1468.1,856.0C1469.8,857.4 1471.5,858.8 1473.2,860.2C1474.8,861.6 1476.5,863.0 1478.2,864.4C1479.9,865.8 1481.5,867.2 1483.2,868.7C1484.9,870.1 1486.5,871.5 1488.2,873.0C1489.9,874.4 1491.6,875.9 1493.2,877.3C1494.9,878.8 1496.6,880.3 1498.2,881.8C1499.9,883.2 1501.6,884.7 1503.3,886.2C1504.9,887.7 1506.6,889.2 1508.3,890.7C1509.9,892.2 1511.6,893.7 1513.3,895.3C1515.0,896.8 1516.6,898.3 1518.3,899.8C1520.0,901.4 1521.6,902.9 1523.3,904.4C1525.0,906.0 1526.7,907.5 1528.3,909.1C1530.0,910.6 1531.7,912.2 1533.3,913.7C1535.0,915.3 1536.7,916.9 1538.4,918.5C1540.0,920.0 1541.7,921.6 1543.4,923.2C1545.0,924.8 1546.7,926.4 1548.4,927.9C1550.1,929.5 1551.7,931.1 1553.4,932.7C1555.1,934.3 1556.7,935.9 1558.4,937.5C1560.1,939.1 1561.8,940.7 1563.4,942.4C1565.1,944.0 1566.8,945.6 1568.4,947.2C1570.1,948.8 1571.8,950.4 1573.5,952.1C1575.1,953.7 1576.8,955.3 1578.5,956.9C1580.1,958.6 1581.8,960.2 1583.5,961.9C1585.2,963.5 1586.8,965.1 1588.5,966.8C1590.2,968.4 1591.8,970.1 1593.5,971.7C1595.2,973.4 1596.9,975.1 1598.5,976.7C1600.2,978.4 1601.9,980.1 1603.6,981.7C1605.2,983.4 1606.9,985.1 1608.6,986.8C1610.2,988.5 1611.9,990.2 1613.6,991.9C1615.3,993.6 1616.9,995.3 1618.6,997.0C1620.3,998.7 1621.9,1000.4 1623.6,1002.2C1625.3,1003.9 1627.0,1005.6 1628.6,1007.4C1630.3,1009.1 1632.0,1010.9 1633.6,1012.6C1635.3,1014.4 1637.0,1016.1 1638.7,1017.9C1640.3,1019.7 1642.0,1021.5 1643.7,1023.2C1645.3,1025.0 1647.0,1026.8 1648.7,1028.6C1650.4,1030.4 1652.9,1033.2 1653.7,1034.1L1672.9,1063.0L1695.8,1089.6L1714.2,1115.3L1729.8,1134.5L1740.8,1107.9L1747.2,1076.8L1751.8,1054.8L1753.5,1049.3L1918.8,1049.3" fill="none" stroke="#808080" stroke-width="4.84" stroke-linejoin="round" stroke-linecap="butt" stroke-dasharray="14.5 14.5"/></g>
<line x1="1731.82" y1="648.90" x2="1731.82" y2="1185.40" stroke="#000" stroke-width="2.4"/>
<path d="M1182.30,1185.40v-19.4M1182.30,648.90v19.4M1313.14,1185.40v-19.4M1313.14,648.90v19.4M1443.98,1185.40v-19.4M1443.98,648.90v19.4M1574.82,1185.40v-19.4M1574.82,648.90v19.4M1705.65,1185.40v-19.4M1705.65,648.90v19.4M1836.49,1185.40v-19.4M1836.49,648.90v19.4M1967.33,1185.40v-19.4M1967.33,648.90v19.4M1182.30,1149.63h19.4M1993.50,1149.63h-19.4M1182.30,1078.10h19.4M1993.50,1078.10h-19.4M1182.30,1006.57h19.4M1993.50,1006.57h-19.4M1182.30,935.03h19.4M1993.50,935.03h-19.4M1182.30,863.50h19.4M1993.50,863.50h-19.4M1182.30,791.97h19.4M1993.50,791.97h-19.4M1182.30,720.43h19.4M1993.50,720.43h-19.4M1182.30,648.90h19.4M1993.50,648.90h-19.4" stroke="#000" stroke-width="2.4" fill="none"/>
<rect x="1182.30" y="648.90" width="811.20" height="536.50" fill="none" stroke="#000" stroke-width="4.84"/>
<text x="1105.72" y="1159.13" font-size="38.7">200</text>
<text x="1105.72" y="1087.60" font-size="38.7">400</text>
<text x="1105.72" y="1016.07" font-size="38.7">600</text>
<text x="1105.72" y="944.53" font-size="38.7">800</text>
<text x="1086.37" y="873.00" font-size="38.7">1000</text>
<text x="1086.37" y="801.47" font-size="38.7">1200</text>
<text x="1086.37" y="729.93" font-size="38.7">1400</text>
<text x="1086.37" y="658.40" font-size="38.7">1600</text>
<text x="134.43" y="1230.70" font-size="38.7">0.5</text>
<text x="264.21" y="1230.70" font-size="38.7">1.0</text>
<text x="394.98" y="1230.70" font-size="38.7">1.5</text>
<text x="526.57" y="1230.70" font-size="38.7">2.0</text>
<text x="657.35" y="1230.70" font-size="38.7">2.5</text>
<text x="788.01" y="1230.70" font-size="38.7">3.0</text>
<text x="918.79" y="1230.70" font-size="38.7">3.5</text>
<text x="1158.13" y="1230.70" font-size="38.7">0.5</text>
<text x="1287.99" y="1230.70" font-size="38.7">1.0</text>
<text x="1418.85" y="1230.70" font-size="38.7">1.5</text>
<text x="1550.52" y="1230.70" font-size="38.7">2.0</text>
<text x="1681.37" y="1230.70" font-size="38.7">2.5</text>
<text x="1812.12" y="1230.70" font-size="38.7">3.0</text>
<text x="1942.97" y="1230.70" font-size="38.7">3.5</text>
<text x="184.40" y="75.70" font-size="38.7">(a)</text>
<text x="1208.40" y="66.90" font-size="38.7">(b)</text>
<text x="184.40" y="702.40" font-size="38.7">(c)</text>
<text x="1208.40" y="686.30" font-size="38.7">(d)</text>
<text transform="translate(61.70,382.33) rotate(-90)" font-size="38.7" font-style="italic">v</text>
<text transform="translate(61.70,354.27) rotate(-90)" font-size="38.7">[km s</text>
<text transform="translate(47.00,263.94) rotate(-90)" font-size="27">−1</text>
<text transform="translate(61.70,229.90) rotate(-90)" font-size="38.7">]</text>
<text transform="translate(1047.50,381.42) rotate(-90)" font-size="38.7" font-style="italic">ρ</text>
<text transform="translate(1047.50,353.87) rotate(-90)" font-size="38.7">[g cm</text>
<text transform="translate(1032.50,261.64) rotate(-90)" font-size="27">−3</text>
<text transform="translate(1047.50,225.80) rotate(-90)" font-size="38.7">]</text>
<text transform="translate(33.50,954.85) rotate(-90)" font-size="38.7" font-style="italic">a</text>
<text transform="translate(42.00,933.50) rotate(-90)" font-size="46">/</text>
<text transform="translate(33.30,913.86) rotate(-90)" font-size="41" font-style="italic">H</text>
<text transform="translate(1050.00,961.08) rotate(-90)" font-size="41" font-style="italic">T</text>
<text transform="translate(1050.00,927.67) rotate(-90)" font-size="38.7">[K]</text>
<text x="530.13" y="1296.60" font-size="38.7" font-style="italic">z</text>
<text x="548.40" y="1305.20" font-size="56">/</text>
<text x="568.15" y="1296.60" font-size="41.5" font-style="italic">H</text>
<text x="1554.03" y="1296.60" font-size="38.7" font-style="italic">z</text>
<text x="1572.30" y="1305.20" font-size="56">/</text>
<text x="1592.05" y="1296.60" font-size="41.5" font-style="italic">H</text>
<rect x="177.8" y="353.7" width="289.4" height="191.7" fill="#fff" stroke="#000" stroke-width="4.2"/>
<line x1="203.3" y1="385.2" x2="262" y2="385.2" stroke="#ffa500" stroke-width="4.84"/>
<text x="305.54" y="399.50" font-size="39.5" font-style="italic">β</text>
<text x="324.90" y="405.40" font-size="29">0</text>
<text transform="translate(348.32,401.70) scale(1.44,1)" font-size="38.7">=</text>
<text x="386.33" y="399.20" font-size="38.7">0.01</text>
<line x1="203.3" y1="446.0" x2="262" y2="446.0" stroke="#f00000" stroke-width="4.84"/>
<text x="305.54" y="460.10" font-size="39.5" font-style="italic">β</text>
<text x="324.90" y="466.00" font-size="29">0</text>
<text transform="translate(348.32,462.30) scale(1.44,1)" font-size="38.7">=</text>
<text x="386.33" y="459.80" font-size="38.7">0.1</text>
<line x1="203.3" y1="506.8" x2="262" y2="506.8" stroke="#800000" stroke-width="4.84"/>
<text x="305.54" y="520.70" font-size="39.5" font-style="italic">β</text>
<text x="324.90" y="526.60" font-size="29">0</text>
<text transform="translate(348.32,522.90) scale(1.44,1)" font-size="38.7">=</text>
<text x="384.40" y="520.40" font-size="38.7">1</text>
<rect x="1800.1" y="50.8" width="174.4" height="69.2" fill="#fff" stroke="#000" stroke-width="4.4"/>
<line x1="1826.8" y1="80.2" x2="1884.3" y2="80.2" stroke="#808080" stroke-width="4.84" stroke-dasharray="14.5 14.5"/>
<text x="1927.88" y="92.90" font-size="38.7" font-style="italic">ρ</text>
<text x="1944.95" y="98.00" font-size="27">e</text>
<rect x="1797.6" y="669" width="176.9" height="68.8" fill="#fff" stroke="#000" stroke-width="4.4"/>
<line x1="1824.6" y1="700.3" x2="1882.1" y2="700.3" stroke="#808080" stroke-width="4.84" stroke-dasharray="14.5 14.5"/>
<text transform="translate(1920.96,714.40) scale(1.2,1)" font-size="40" font-style="italic">T</text>
<text x="1945.05" y="719.00" font-size="27">e</text>
</svg></body></html>
